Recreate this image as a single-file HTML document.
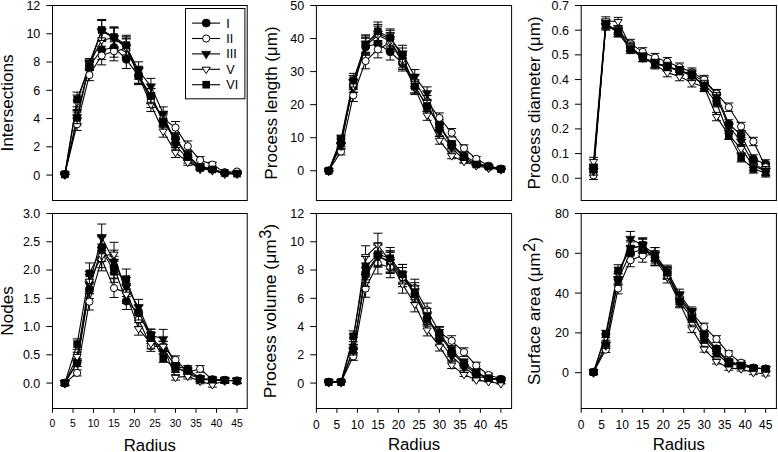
<!DOCTYPE html><html><head><meta charset="utf-8"><style>html,body{margin:0;padding:0;background:#fff;}svg{display:block;}text{font-family:"Liberation Sans", sans-serif;fill:#000;}</style></head><body>
<svg width="778" height="452" viewBox="0 0 778 452">
<rect width="778" height="452" fill="#fff"/>
<g><polyline points="64.80,174.36 77.10,118.54 89.40,65.55 101.70,50.01 114.00,47.47 126.30,59.34 138.60,76.15 150.90,95.93 163.20,119.96 175.50,138.33 187.80,155.28 200.10,166.59 212.40,168.71 224.70,172.95 237.00,172.95" fill="none" stroke="#000" stroke-width="1.1" stroke-linejoin="round"/><polyline points="64.80,174.36 77.10,124.20 89.40,75.02 101.70,55.52 114.00,51.28 126.30,48.60 138.60,74.74 150.90,100.17 163.20,118.54 175.50,127.59 187.80,146.24 200.10,160.09 212.40,164.61 224.70,172.24 237.00,171.53" fill="none" stroke="#000" stroke-width="1.1" stroke-linejoin="round"/><polyline points="64.80,174.36 77.10,117.13 89.40,62.73 101.70,30.93 114.00,38.00 126.30,46.48 138.60,70.50 150.90,86.33 163.20,113.60 175.50,144.68 187.80,159.52 200.10,168.71 212.40,170.12 224.70,173.65 237.00,173.65" fill="none" stroke="#000" stroke-width="1.1" stroke-linejoin="round"/><polyline points="64.80,174.36 77.10,102.29 89.40,64.14 101.70,39.98 114.00,38.00 126.30,47.89 138.60,76.15 150.90,104.41 163.20,131.26 175.50,152.46 187.80,162.35 200.10,168.00 212.40,170.12 224.70,173.65 237.00,173.65" fill="none" stroke="#000" stroke-width="1.1" stroke-linejoin="round"/><polyline points="64.80,174.36 77.10,99.47 89.40,66.26 101.70,29.95 114.00,37.01 126.30,45.07 138.60,75.30 150.90,96.22 163.20,121.37 175.50,139.74 187.80,156.27 200.10,168.00 212.40,169.41 224.70,172.95 237.00,173.65" fill="none" stroke="#000" stroke-width="1.1" stroke-linejoin="round"/><path d="M64.80 174.20V174.52M60.30 174.20H69.30M60.30 174.52H69.30" stroke="#000" stroke-width="1" fill="none"/><path d="M77.10 112.04V125.04M72.60 112.04H81.60M72.60 125.04H81.60" stroke="#000" stroke-width="1" fill="none"/><path d="M89.40 61.32V69.79M84.90 61.32H93.90M84.90 69.79H93.90" stroke="#000" stroke-width="1" fill="none"/><path d="M101.70 40.43V59.59M97.20 40.43H106.20M97.20 59.59H106.20" stroke="#000" stroke-width="1" fill="none"/><path d="M114.00 37.77V57.17M109.50 37.77H118.50M109.50 57.17H118.50" stroke="#000" stroke-width="1" fill="none"/><path d="M126.30 50.17V68.50M121.80 50.17H130.80M121.80 68.50H130.80" stroke="#000" stroke-width="1" fill="none"/><path d="M138.60 67.74V84.56M134.10 67.74H143.10M134.10 84.56H143.10" stroke="#000" stroke-width="1" fill="none"/><path d="M150.90 88.42V103.45M146.40 88.42H155.40M146.40 103.45H155.40" stroke="#000" stroke-width="1" fill="none"/><path d="M163.20 113.52V126.39M158.70 113.52H167.70M158.70 126.39H167.70" stroke="#000" stroke-width="1" fill="none"/><path d="M175.50 132.72V143.94M171.00 132.72H180.00M171.00 143.94H180.00" stroke="#000" stroke-width="1" fill="none"/><path d="M187.80 150.70V159.87M183.30 150.70H192.30M183.30 159.87H192.30" stroke="#000" stroke-width="1" fill="none"/><path d="M200.10 164.62V168.55M195.60 164.62H204.60M195.60 168.55H204.60" stroke="#000" stroke-width="1" fill="none"/><path d="M212.40 167.23V170.18M207.90 167.23H216.90M207.90 170.18H216.90" stroke="#000" stroke-width="1" fill="none"/><path d="M224.70 172.45V173.44M220.20 172.45H229.20M220.20 173.44H229.20" stroke="#000" stroke-width="1" fill="none"/><path d="M237.00 172.45V173.44M232.50 172.45H241.50M232.50 173.44H241.50" stroke="#000" stroke-width="1" fill="none"/><circle cx="64.80" cy="174.36" r="4.0" fill="#000" stroke="#000" stroke-width="0.8"/><circle cx="77.10" cy="118.54" r="4.0" fill="#000" stroke="#000" stroke-width="0.8"/><circle cx="89.40" cy="65.55" r="4.0" fill="#000" stroke="#000" stroke-width="0.8"/><circle cx="101.70" cy="50.01" r="4.0" fill="#000" stroke="#000" stroke-width="0.8"/><circle cx="114.00" cy="47.47" r="4.0" fill="#000" stroke="#000" stroke-width="0.8"/><circle cx="126.30" cy="59.34" r="4.0" fill="#000" stroke="#000" stroke-width="0.8"/><circle cx="138.60" cy="76.15" r="4.0" fill="#000" stroke="#000" stroke-width="0.8"/><circle cx="150.90" cy="95.93" r="4.0" fill="#000" stroke="#000" stroke-width="0.8"/><circle cx="163.20" cy="119.96" r="4.0" fill="#000" stroke="#000" stroke-width="0.8"/><circle cx="175.50" cy="138.33" r="4.0" fill="#000" stroke="#000" stroke-width="0.8"/><circle cx="187.80" cy="155.28" r="4.0" fill="#000" stroke="#000" stroke-width="0.8"/><circle cx="200.10" cy="166.59" r="4.0" fill="#000" stroke="#000" stroke-width="0.8"/><circle cx="212.40" cy="168.71" r="4.0" fill="#000" stroke="#000" stroke-width="0.8"/><circle cx="224.70" cy="172.95" r="4.0" fill="#000" stroke="#000" stroke-width="0.8"/><circle cx="237.00" cy="172.95" r="4.0" fill="#000" stroke="#000" stroke-width="0.8"/><path d="M64.80 174.20V174.52M60.30 174.20H69.30M60.30 174.52H69.30" stroke="#000" stroke-width="1" fill="none"/><path d="M77.10 117.95V130.44M72.60 117.95H81.60M72.60 130.44H81.60" stroke="#000" stroke-width="1" fill="none"/><path d="M89.40 69.37V80.67M84.90 69.37H93.90M84.90 80.67H93.90" stroke="#000" stroke-width="1" fill="none"/><path d="M101.70 46.19V64.86M97.20 46.19H106.20M97.20 64.86H106.20" stroke="#000" stroke-width="1" fill="none"/><path d="M114.00 41.76V60.81M109.50 41.76H118.50M109.50 60.81H118.50" stroke="#000" stroke-width="1" fill="none"/><path d="M126.30 38.95V58.25M121.80 38.95H130.80M121.80 58.25H130.80" stroke="#000" stroke-width="1" fill="none"/><path d="M138.60 66.27V83.21M134.10 66.27H143.10M134.10 83.21H143.10" stroke="#000" stroke-width="1" fill="none"/><path d="M150.90 92.85V107.50M146.40 92.85H155.40M146.40 107.50H155.40" stroke="#000" stroke-width="1" fill="none"/><path d="M163.20 112.04V125.04M158.70 112.04H167.70M158.70 125.04H167.70" stroke="#000" stroke-width="1" fill="none"/><path d="M175.50 121.49V133.68M171.00 121.49H180.00M171.00 133.68H180.00" stroke="#000" stroke-width="1" fill="none"/><path d="M187.80 140.99V151.49M183.30 140.99H192.30M183.30 151.49H192.30" stroke="#000" stroke-width="1" fill="none"/><path d="M200.10 156.62V163.56M195.60 156.62H204.60M195.60 163.56H204.60" stroke="#000" stroke-width="1" fill="none"/><path d="M212.40 162.19V167.03M207.90 162.19H216.90M207.90 167.03H216.90" stroke="#000" stroke-width="1" fill="none"/><path d="M224.70 171.58V172.89M220.20 171.58H229.20M220.20 172.89H229.20" stroke="#000" stroke-width="1" fill="none"/><path d="M237.00 170.71V172.35M232.50 170.71H241.50M232.50 172.35H241.50" stroke="#000" stroke-width="1" fill="none"/><circle cx="64.80" cy="174.36" r="3.6" fill="#fff" stroke="#000" stroke-width="1"/><circle cx="77.10" cy="124.20" r="3.6" fill="#fff" stroke="#000" stroke-width="1"/><circle cx="89.40" cy="75.02" r="3.6" fill="#fff" stroke="#000" stroke-width="1"/><circle cx="101.70" cy="55.52" r="3.6" fill="#fff" stroke="#000" stroke-width="1"/><circle cx="114.00" cy="51.28" r="3.6" fill="#fff" stroke="#000" stroke-width="1"/><circle cx="126.30" cy="48.60" r="3.6" fill="#fff" stroke="#000" stroke-width="1"/><circle cx="138.60" cy="74.74" r="3.6" fill="#fff" stroke="#000" stroke-width="1"/><circle cx="150.90" cy="100.17" r="3.6" fill="#fff" stroke="#000" stroke-width="1"/><circle cx="163.20" cy="118.54" r="3.6" fill="#fff" stroke="#000" stroke-width="1"/><circle cx="175.50" cy="127.59" r="3.6" fill="#fff" stroke="#000" stroke-width="1"/><circle cx="187.80" cy="146.24" r="3.6" fill="#fff" stroke="#000" stroke-width="1"/><circle cx="200.10" cy="160.09" r="3.6" fill="#fff" stroke="#000" stroke-width="1"/><circle cx="212.40" cy="164.61" r="3.6" fill="#fff" stroke="#000" stroke-width="1"/><circle cx="224.70" cy="172.24" r="3.6" fill="#fff" stroke="#000" stroke-width="1"/><circle cx="237.00" cy="171.53" r="3.6" fill="#fff" stroke="#000" stroke-width="1"/><path d="M64.80 174.20V174.52M60.30 174.20H69.30M60.30 174.52H69.30" stroke="#000" stroke-width="1" fill="none"/><path d="M77.10 110.57V123.69M72.60 110.57H81.60M72.60 123.69H81.60" stroke="#000" stroke-width="1" fill="none"/><path d="M89.40 58.49V66.97M84.90 58.49H93.90M84.90 66.97H93.90" stroke="#000" stroke-width="1" fill="none"/><path d="M101.70 20.49V41.38M97.20 20.49H106.20M97.20 41.38H106.20" stroke="#000" stroke-width="1" fill="none"/><path d="M114.00 27.88V48.12M109.50 27.88H118.50M109.50 48.12H118.50" stroke="#000" stroke-width="1" fill="none"/><path d="M126.30 36.74V56.22M121.80 36.74H130.80M121.80 56.22H130.80" stroke="#000" stroke-width="1" fill="none"/><path d="M138.60 61.84V79.16M134.10 61.84H143.10M134.10 79.16H143.10" stroke="#000" stroke-width="1" fill="none"/><path d="M150.90 78.38V94.28M146.40 78.38H155.40M146.40 94.28H155.40" stroke="#000" stroke-width="1" fill="none"/><path d="M163.20 106.88V120.32M158.70 106.88H167.70M158.70 120.32H167.70" stroke="#000" stroke-width="1" fill="none"/><path d="M175.50 139.36V150.01M171.00 139.36H180.00M171.00 150.01H180.00" stroke="#000" stroke-width="1" fill="none"/><path d="M187.80 155.92V163.12M183.30 155.92H192.30M183.30 163.12H192.30" stroke="#000" stroke-width="1" fill="none"/><path d="M200.10 167.23V170.18M195.60 167.23H204.60M195.60 170.18H204.60" stroke="#000" stroke-width="1" fill="none"/><path d="M212.40 168.97V171.27M207.90 168.97H216.90M207.90 171.27H216.90" stroke="#000" stroke-width="1" fill="none"/><path d="M224.70 173.32V173.98M220.20 173.32H229.20M220.20 173.98H229.20" stroke="#000" stroke-width="1" fill="none"/><path d="M237.00 173.32V173.98M232.50 173.32H241.50M232.50 173.98H241.50" stroke="#000" stroke-width="1" fill="none"/><polygon points="60.10,171.76 69.50,171.76 64.80,179.56" fill="#000" stroke="#000" stroke-width="0.5" stroke-linejoin="miter"/><polygon points="72.40,114.53 81.80,114.53 77.10,122.33" fill="#000" stroke="#000" stroke-width="0.5" stroke-linejoin="miter"/><polygon points="84.70,60.13 94.10,60.13 89.40,67.93" fill="#000" stroke="#000" stroke-width="0.5" stroke-linejoin="miter"/><polygon points="97.00,28.33 106.40,28.33 101.70,36.13" fill="#000" stroke="#000" stroke-width="0.5" stroke-linejoin="miter"/><polygon points="109.30,35.40 118.70,35.40 114.00,43.20" fill="#000" stroke="#000" stroke-width="0.5" stroke-linejoin="miter"/><polygon points="121.60,43.88 131.00,43.88 126.30,51.68" fill="#000" stroke="#000" stroke-width="0.5" stroke-linejoin="miter"/><polygon points="133.90,67.90 143.30,67.90 138.60,75.70" fill="#000" stroke="#000" stroke-width="0.5" stroke-linejoin="miter"/><polygon points="146.20,83.73 155.60,83.73 150.90,91.53" fill="#000" stroke="#000" stroke-width="0.5" stroke-linejoin="miter"/><polygon points="158.50,111.00 167.90,111.00 163.20,118.80" fill="#000" stroke="#000" stroke-width="0.5" stroke-linejoin="miter"/><polygon points="170.80,142.08 180.20,142.08 175.50,149.88" fill="#000" stroke="#000" stroke-width="0.5" stroke-linejoin="miter"/><polygon points="183.10,156.92 192.50,156.92 187.80,164.72" fill="#000" stroke="#000" stroke-width="0.5" stroke-linejoin="miter"/><polygon points="195.40,166.11 204.80,166.11 200.10,173.91" fill="#000" stroke="#000" stroke-width="0.5" stroke-linejoin="miter"/><polygon points="207.70,167.52 217.10,167.52 212.40,175.32" fill="#000" stroke="#000" stroke-width="0.5" stroke-linejoin="miter"/><polygon points="220.00,171.05 229.40,171.05 224.70,178.85" fill="#000" stroke="#000" stroke-width="0.5" stroke-linejoin="miter"/><polygon points="232.30,171.05 241.70,171.05 237.00,178.85" fill="#000" stroke="#000" stroke-width="0.5" stroke-linejoin="miter"/><path d="M64.80 174.20V174.52M60.30 174.20H69.30M60.30 174.52H69.30" stroke="#000" stroke-width="1" fill="none"/><path d="M77.10 95.06V109.52M72.60 95.06H81.60M72.60 109.52H81.60" stroke="#000" stroke-width="1" fill="none"/><path d="M89.40 59.90V68.38M84.90 59.90H93.90M84.90 68.38H93.90" stroke="#000" stroke-width="1" fill="none"/><path d="M101.70 29.94V50.01M97.20 29.94H106.20M97.20 50.01H106.20" stroke="#000" stroke-width="1" fill="none"/><path d="M114.00 27.88V48.12M109.50 27.88H118.50M109.50 48.12H118.50" stroke="#000" stroke-width="1" fill="none"/><path d="M126.30 38.21V57.57M121.80 38.21H130.80M121.80 57.57H130.80" stroke="#000" stroke-width="1" fill="none"/><path d="M138.60 67.74V84.56M134.10 67.74H143.10M134.10 84.56H143.10" stroke="#000" stroke-width="1" fill="none"/><path d="M150.90 97.28V111.55M146.40 97.28H155.40M146.40 111.55H155.40" stroke="#000" stroke-width="1" fill="none"/><path d="M163.20 125.33V137.19M158.70 125.33H167.70M158.70 137.19H167.70" stroke="#000" stroke-width="1" fill="none"/><path d="M175.50 147.48V157.43M171.00 147.48H180.00M171.00 157.43H180.00" stroke="#000" stroke-width="1" fill="none"/><path d="M187.80 159.40V165.29M183.30 159.40H192.30M183.30 165.29H192.30" stroke="#000" stroke-width="1" fill="none"/><path d="M200.10 166.36V169.64M195.60 166.36H204.60M195.60 169.64H204.60" stroke="#000" stroke-width="1" fill="none"/><path d="M212.40 168.97V171.27M207.90 168.97H216.90M207.90 171.27H216.90" stroke="#000" stroke-width="1" fill="none"/><path d="M224.70 173.32V173.98M220.20 173.32H229.20M220.20 173.98H229.20" stroke="#000" stroke-width="1" fill="none"/><path d="M237.00 173.32V173.98M232.50 173.32H241.50M232.50 173.98H241.50" stroke="#000" stroke-width="1" fill="none"/><polygon points="60.70,172.26 68.90,172.26 64.80,178.66" fill="#fff" stroke="#000" stroke-width="1"/><polygon points="73.00,100.19 81.20,100.19 77.10,106.59" fill="#fff" stroke="#000" stroke-width="1"/><polygon points="85.30,62.04 93.50,62.04 89.40,68.44" fill="#fff" stroke="#000" stroke-width="1"/><polygon points="97.60,37.88 105.80,37.88 101.70,44.28" fill="#fff" stroke="#000" stroke-width="1"/><polygon points="109.90,35.90 118.10,35.90 114.00,42.30" fill="#fff" stroke="#000" stroke-width="1"/><polygon points="122.20,45.79 130.40,45.79 126.30,52.19" fill="#fff" stroke="#000" stroke-width="1"/><polygon points="134.50,74.05 142.70,74.05 138.60,80.45" fill="#fff" stroke="#000" stroke-width="1"/><polygon points="146.80,102.31 155.00,102.31 150.90,108.71" fill="#fff" stroke="#000" stroke-width="1"/><polygon points="159.10,129.16 167.30,129.16 163.20,135.56" fill="#fff" stroke="#000" stroke-width="1"/><polygon points="171.40,150.36 179.60,150.36 175.50,156.76" fill="#fff" stroke="#000" stroke-width="1"/><polygon points="183.70,160.25 191.90,160.25 187.80,166.65" fill="#fff" stroke="#000" stroke-width="1"/><polygon points="196.00,165.90 204.20,165.90 200.10,172.30" fill="#fff" stroke="#000" stroke-width="1"/><polygon points="208.30,168.02 216.50,168.02 212.40,174.42" fill="#fff" stroke="#000" stroke-width="1"/><polygon points="220.60,171.55 228.80,171.55 224.70,177.95" fill="#fff" stroke="#000" stroke-width="1"/><polygon points="232.90,171.55 241.10,171.55 237.00,177.95" fill="#fff" stroke="#000" stroke-width="1"/><path d="M64.80 174.20V174.52M60.30 174.20H69.30M60.30 174.52H69.30" stroke="#000" stroke-width="1" fill="none"/><path d="M77.10 92.11V106.83M72.60 92.11H81.60M72.60 106.83H81.60" stroke="#000" stroke-width="1" fill="none"/><path d="M89.40 62.02V70.50M84.90 62.02H93.90M84.90 70.50H93.90" stroke="#000" stroke-width="1" fill="none"/><path d="M101.70 19.46V40.43M97.20 19.46H106.20M97.20 40.43H106.20" stroke="#000" stroke-width="1" fill="none"/><path d="M114.00 26.84V47.18M109.50 26.84H118.50M109.50 47.18H118.50" stroke="#000" stroke-width="1" fill="none"/><path d="M126.30 35.26V54.87M121.80 35.26H130.80M121.80 54.87H130.80" stroke="#000" stroke-width="1" fill="none"/><path d="M138.60 66.86V83.75M134.10 66.86H143.10M134.10 83.75H143.10" stroke="#000" stroke-width="1" fill="none"/><path d="M150.90 88.71V103.72M146.40 88.71H155.40M146.40 103.72H155.40" stroke="#000" stroke-width="1" fill="none"/><path d="M163.20 115.00V127.74M158.70 115.00H167.70M158.70 127.74H167.70" stroke="#000" stroke-width="1" fill="none"/><path d="M175.50 134.19V145.29M171.00 134.19H180.00M171.00 145.29H180.00" stroke="#000" stroke-width="1" fill="none"/><path d="M187.80 151.92V160.63M183.30 151.92H192.30M183.30 160.63H192.30" stroke="#000" stroke-width="1" fill="none"/><path d="M200.10 166.36V169.64M195.60 166.36H204.60M195.60 169.64H204.60" stroke="#000" stroke-width="1" fill="none"/><path d="M212.40 168.10V170.72M207.90 168.10H216.90M207.90 170.72H216.90" stroke="#000" stroke-width="1" fill="none"/><path d="M224.70 172.45V173.44M220.20 172.45H229.20M220.20 173.44H229.20" stroke="#000" stroke-width="1" fill="none"/><path d="M237.00 173.32V173.98M232.50 173.32H241.50M232.50 173.98H241.50" stroke="#000" stroke-width="1" fill="none"/><rect x="61.00" y="170.56" width="7.6" height="7.6" fill="#000"/><rect x="73.30" y="95.67" width="7.6" height="7.6" fill="#000"/><rect x="85.60" y="62.46" width="7.6" height="7.6" fill="#000"/><rect x="97.90" y="26.15" width="7.6" height="7.6" fill="#000"/><rect x="110.20" y="33.21" width="7.6" height="7.6" fill="#000"/><rect x="122.50" y="41.27" width="7.6" height="7.6" fill="#000"/><rect x="134.80" y="71.50" width="7.6" height="7.6" fill="#000"/><rect x="147.10" y="92.42" width="7.6" height="7.6" fill="#000"/><rect x="159.40" y="117.57" width="7.6" height="7.6" fill="#000"/><rect x="171.70" y="135.94" width="7.6" height="7.6" fill="#000"/><rect x="184.00" y="152.47" width="7.6" height="7.6" fill="#000"/><rect x="196.30" y="164.20" width="7.6" height="7.6" fill="#000"/><rect x="208.60" y="165.61" width="7.6" height="7.6" fill="#000"/><rect x="220.90" y="169.15" width="7.6" height="7.6" fill="#000"/><rect x="233.20" y="169.85" width="7.6" height="7.6" fill="#000"/></g>
<rect x="52.50" y="5.50" width="194.70" height="195.00" fill="none" stroke="#000" stroke-width="1.0"/>
<line x1="46.30" y1="175.07" x2="52.50" y2="175.07" stroke="#000" stroke-width="1.0"/>
<text x="40.30" y="179.52" font-size="12.5" text-anchor="end">0</text>
<line x1="46.30" y1="146.80" x2="52.50" y2="146.80" stroke="#000" stroke-width="1.0"/>
<text x="40.30" y="151.25" font-size="12.5" text-anchor="end">2</text>
<line x1="46.30" y1="118.54" x2="52.50" y2="118.54" stroke="#000" stroke-width="1.0"/>
<text x="40.30" y="122.99" font-size="12.5" text-anchor="end">4</text>
<line x1="46.30" y1="90.28" x2="52.50" y2="90.28" stroke="#000" stroke-width="1.0"/>
<text x="40.30" y="94.73" font-size="12.5" text-anchor="end">6</text>
<line x1="46.30" y1="62.02" x2="52.50" y2="62.02" stroke="#000" stroke-width="1.0"/>
<text x="40.30" y="66.47" font-size="12.5" text-anchor="end">8</text>
<line x1="46.30" y1="33.76" x2="52.50" y2="33.76" stroke="#000" stroke-width="1.0"/>
<text x="40.30" y="38.21" font-size="12.5" text-anchor="end">10</text>
<line x1="46.30" y1="5.50" x2="52.50" y2="5.50" stroke="#000" stroke-width="1.0"/>
<text x="40.30" y="9.95" font-size="12.5" text-anchor="end">12</text>
<text transform="translate(12.80,103.00) rotate(-90)" x="0" y="0" font-size="17.1" text-anchor="middle">Intersections</text>
<g><polyline points="328.70,170.75 341.00,142.99 353.30,85.48 365.60,46.81 377.90,43.84 390.20,51.77 402.50,63.34 414.80,86.47 427.10,106.31 439.40,124.48 451.70,144.31 464.00,155.88 476.30,162.49 488.60,166.79 500.90,169.10" fill="none" stroke="#000" stroke-width="1.1" stroke-linejoin="round"/><polyline points="328.70,170.75 341.00,151.58 353.30,95.40 365.60,61.03 377.90,49.46 390.20,42.52 402.50,61.69 414.80,81.52 427.10,101.35 439.40,117.87 451.70,132.75 464.00,148.28 476.30,158.86 488.60,165.80 500.90,168.77" fill="none" stroke="#000" stroke-width="1.1" stroke-linejoin="round"/><polyline points="328.70,170.75 341.00,145.64 353.30,82.18 365.60,43.51 377.90,33.59 390.20,39.21 402.50,53.42 414.80,76.56 427.10,93.08 439.40,131.75 451.70,147.62 464.00,160.18 476.30,164.14 488.60,167.45 500.90,169.10" fill="none" stroke="#000" stroke-width="1.1" stroke-linejoin="round"/><polyline points="328.70,170.75 341.00,140.02 353.30,86.14 365.60,45.82 377.90,35.25 390.20,41.19 402.50,60.03 414.80,88.13 427.10,115.23 439.40,140.35 451.70,155.88 464.00,161.50 476.30,165.80 488.60,168.11 500.90,169.43" fill="none" stroke="#000" stroke-width="1.1" stroke-linejoin="round"/><polyline points="328.70,170.75 341.00,139.03 353.30,80.19 365.60,44.50 377.90,31.28 390.20,37.89 402.50,56.07 414.80,86.47 427.10,105.97 439.40,126.47 451.70,145.31 464.00,157.20 476.30,164.47 488.60,166.46 500.90,169.10" fill="none" stroke="#000" stroke-width="1.1" stroke-linejoin="round"/><path d="M328.70 170.75V170.75M324.20 170.75H333.20M324.20 170.75H333.20" stroke="#000" stroke-width="1" fill="none"/><path d="M341.00 139.29V146.69M336.50 139.29H345.50M336.50 146.69H345.50" stroke="#000" stroke-width="1" fill="none"/><path d="M353.30 78.91V92.06M348.80 78.91H357.80M348.80 92.06H357.80" stroke="#000" stroke-width="1" fill="none"/><path d="M365.60 38.30V55.32M361.10 38.30H370.10M361.10 55.32H370.10" stroke="#000" stroke-width="1" fill="none"/><path d="M377.90 35.18V52.50M373.40 35.18H382.40M373.40 52.50H382.40" stroke="#000" stroke-width="1" fill="none"/><path d="M390.20 43.51V60.03M385.70 43.51H394.70M385.70 60.03H394.70" stroke="#000" stroke-width="1" fill="none"/><path d="M402.50 55.65V71.02M398.00 55.65H407.00M398.00 71.02H407.00" stroke="#000" stroke-width="1" fill="none"/><path d="M414.80 79.95V93.00M410.30 79.95H419.30M410.30 93.00H419.30" stroke="#000" stroke-width="1" fill="none"/><path d="M427.10 100.77V111.84M422.60 100.77H431.60M422.60 111.84H431.60" stroke="#000" stroke-width="1" fill="none"/><path d="M439.40 119.86V129.11M434.90 119.86H443.90M434.90 129.11H443.90" stroke="#000" stroke-width="1" fill="none"/><path d="M451.70 140.68V147.95M447.20 140.68H456.20M447.20 147.95H456.20" stroke="#000" stroke-width="1" fill="none"/><path d="M464.00 153.06V158.71M459.50 153.06H468.50M459.50 158.71H468.50" stroke="#000" stroke-width="1" fill="none"/><path d="M476.30 160.92V164.06M471.80 160.92H480.80M471.80 164.06H480.80" stroke="#000" stroke-width="1" fill="none"/><path d="M488.60 166.03V167.54M484.10 166.03H493.10M484.10 167.54H493.10" stroke="#000" stroke-width="1" fill="none"/><path d="M500.90 168.79V169.42M496.40 168.79H505.40M496.40 169.42H505.40" stroke="#000" stroke-width="1" fill="none"/><circle cx="328.70" cy="170.75" r="4.0" fill="#000" stroke="#000" stroke-width="0.8"/><circle cx="341.00" cy="142.99" r="4.0" fill="#000" stroke="#000" stroke-width="0.8"/><circle cx="353.30" cy="85.48" r="4.0" fill="#000" stroke="#000" stroke-width="0.8"/><circle cx="365.60" cy="46.81" r="4.0" fill="#000" stroke="#000" stroke-width="0.8"/><circle cx="377.90" cy="43.84" r="4.0" fill="#000" stroke="#000" stroke-width="0.8"/><circle cx="390.20" cy="51.77" r="4.0" fill="#000" stroke="#000" stroke-width="0.8"/><circle cx="402.50" cy="63.34" r="4.0" fill="#000" stroke="#000" stroke-width="0.8"/><circle cx="414.80" cy="86.47" r="4.0" fill="#000" stroke="#000" stroke-width="0.8"/><circle cx="427.10" cy="106.31" r="4.0" fill="#000" stroke="#000" stroke-width="0.8"/><circle cx="439.40" cy="124.48" r="4.0" fill="#000" stroke="#000" stroke-width="0.8"/><circle cx="451.70" cy="144.31" r="4.0" fill="#000" stroke="#000" stroke-width="0.8"/><circle cx="464.00" cy="155.88" r="4.0" fill="#000" stroke="#000" stroke-width="0.8"/><circle cx="476.30" cy="162.49" r="4.0" fill="#000" stroke="#000" stroke-width="0.8"/><circle cx="488.60" cy="166.79" r="4.0" fill="#000" stroke="#000" stroke-width="0.8"/><circle cx="500.90" cy="169.10" r="4.0" fill="#000" stroke="#000" stroke-width="0.8"/><path d="M328.70 170.75V170.75M324.20 170.75H333.20M324.20 170.75H333.20" stroke="#000" stroke-width="1" fill="none"/><path d="M341.00 148.31V154.86M336.50 148.31H345.50M336.50 154.86H345.50" stroke="#000" stroke-width="1" fill="none"/><path d="M353.30 89.32V101.48M348.80 89.32H357.80M348.80 101.48H357.80" stroke="#000" stroke-width="1" fill="none"/><path d="M365.60 53.23V68.83M361.10 53.23H370.10M361.10 68.83H370.10" stroke="#000" stroke-width="1" fill="none"/><path d="M377.90 41.08V57.84M373.40 41.08H382.40M373.40 57.84H382.40" stroke="#000" stroke-width="1" fill="none"/><path d="M390.20 33.79V51.24M385.70 33.79H394.70M385.70 51.24H394.70" stroke="#000" stroke-width="1" fill="none"/><path d="M402.50 53.92V69.45M398.00 53.92H407.00M398.00 69.45H407.00" stroke="#000" stroke-width="1" fill="none"/><path d="M414.80 74.74V88.29M410.30 74.74H419.30M410.30 88.29H419.30" stroke="#000" stroke-width="1" fill="none"/><path d="M427.10 95.56V107.13M422.60 95.56H431.60M422.60 107.13H431.60" stroke="#000" stroke-width="1" fill="none"/><path d="M439.40 112.92V122.83M434.90 112.92H443.90M434.90 122.83H443.90" stroke="#000" stroke-width="1" fill="none"/><path d="M451.70 128.53V136.96M447.20 128.53H456.20M447.20 136.96H456.20" stroke="#000" stroke-width="1" fill="none"/><path d="M464.00 144.84V151.72M459.50 144.84H468.50M459.50 151.72H468.50" stroke="#000" stroke-width="1" fill="none"/><path d="M476.30 156.60V161.12M471.80 156.60H480.80M471.80 161.12H480.80" stroke="#000" stroke-width="1" fill="none"/><path d="M488.60 164.85V166.74M484.10 164.85H493.10M484.10 166.74H493.10" stroke="#000" stroke-width="1" fill="none"/><path d="M500.90 168.39V169.15M496.40 168.39H505.40M496.40 169.15H505.40" stroke="#000" stroke-width="1" fill="none"/><circle cx="328.70" cy="170.75" r="3.6" fill="#fff" stroke="#000" stroke-width="1"/><circle cx="341.00" cy="151.58" r="3.6" fill="#fff" stroke="#000" stroke-width="1"/><circle cx="353.30" cy="95.40" r="3.6" fill="#fff" stroke="#000" stroke-width="1"/><circle cx="365.60" cy="61.03" r="3.6" fill="#fff" stroke="#000" stroke-width="1"/><circle cx="377.90" cy="49.46" r="3.6" fill="#fff" stroke="#000" stroke-width="1"/><circle cx="390.20" cy="42.52" r="3.6" fill="#fff" stroke="#000" stroke-width="1"/><circle cx="402.50" cy="61.69" r="3.6" fill="#fff" stroke="#000" stroke-width="1"/><circle cx="414.80" cy="81.52" r="3.6" fill="#fff" stroke="#000" stroke-width="1"/><circle cx="427.10" cy="101.35" r="3.6" fill="#fff" stroke="#000" stroke-width="1"/><circle cx="439.40" cy="117.87" r="3.6" fill="#fff" stroke="#000" stroke-width="1"/><circle cx="451.70" cy="132.75" r="3.6" fill="#fff" stroke="#000" stroke-width="1"/><circle cx="464.00" cy="148.28" r="3.6" fill="#fff" stroke="#000" stroke-width="1"/><circle cx="476.30" cy="158.86" r="3.6" fill="#fff" stroke="#000" stroke-width="1"/><circle cx="488.60" cy="165.80" r="3.6" fill="#fff" stroke="#000" stroke-width="1"/><circle cx="500.90" cy="168.77" r="3.6" fill="#fff" stroke="#000" stroke-width="1"/><path d="M328.70 170.75V170.75M324.20 170.75H333.20M324.20 170.75H333.20" stroke="#000" stroke-width="1" fill="none"/><path d="M341.00 142.07V149.21M336.50 142.07H345.50M336.50 149.21H345.50" stroke="#000" stroke-width="1" fill="none"/><path d="M353.30 75.44V88.92M348.80 75.44H357.80M348.80 88.92H357.80" stroke="#000" stroke-width="1" fill="none"/><path d="M365.60 34.83V52.18M361.10 34.83H370.10M361.10 52.18H370.10" stroke="#000" stroke-width="1" fill="none"/><path d="M377.90 24.42V42.76M373.40 24.42H382.40M373.40 42.76H382.40" stroke="#000" stroke-width="1" fill="none"/><path d="M390.20 30.32V48.10M385.70 30.32H394.70M385.70 48.10H394.70" stroke="#000" stroke-width="1" fill="none"/><path d="M402.50 45.24V61.60M398.00 45.24H407.00M398.00 61.60H407.00" stroke="#000" stroke-width="1" fill="none"/><path d="M414.80 69.54V83.58M410.30 69.54H419.30M410.30 83.58H419.30" stroke="#000" stroke-width="1" fill="none"/><path d="M427.10 86.89V99.28M422.60 86.89H431.60M422.60 99.28H431.60" stroke="#000" stroke-width="1" fill="none"/><path d="M439.40 127.49V136.02M434.90 127.49H443.90M434.90 136.02H443.90" stroke="#000" stroke-width="1" fill="none"/><path d="M451.70 144.15V151.09M447.20 144.15H456.20M447.20 151.09H456.20" stroke="#000" stroke-width="1" fill="none"/><path d="M464.00 158.17V162.19M459.50 158.17H468.50M459.50 162.19H468.50" stroke="#000" stroke-width="1" fill="none"/><path d="M476.30 162.89V165.40M471.80 162.89H480.80M471.80 165.40H480.80" stroke="#000" stroke-width="1" fill="none"/><path d="M488.60 166.82V168.08M484.10 166.82H493.10M484.10 168.08H493.10" stroke="#000" stroke-width="1" fill="none"/><path d="M500.90 168.79V169.42M496.40 168.79H505.40M496.40 169.42H505.40" stroke="#000" stroke-width="1" fill="none"/><polygon points="324.00,168.15 333.40,168.15 328.70,175.95" fill="#000" stroke="#000" stroke-width="0.5" stroke-linejoin="miter"/><polygon points="336.30,143.04 345.70,143.04 341.00,150.84" fill="#000" stroke="#000" stroke-width="0.5" stroke-linejoin="miter"/><polygon points="348.60,79.58 358.00,79.58 353.30,87.38" fill="#000" stroke="#000" stroke-width="0.5" stroke-linejoin="miter"/><polygon points="360.90,40.91 370.30,40.91 365.60,48.71" fill="#000" stroke="#000" stroke-width="0.5" stroke-linejoin="miter"/><polygon points="373.20,30.99 382.60,30.99 377.90,38.79" fill="#000" stroke="#000" stroke-width="0.5" stroke-linejoin="miter"/><polygon points="385.50,36.61 394.90,36.61 390.20,44.41" fill="#000" stroke="#000" stroke-width="0.5" stroke-linejoin="miter"/><polygon points="397.80,50.82 407.20,50.82 402.50,58.62" fill="#000" stroke="#000" stroke-width="0.5" stroke-linejoin="miter"/><polygon points="410.10,73.96 419.50,73.96 414.80,81.76" fill="#000" stroke="#000" stroke-width="0.5" stroke-linejoin="miter"/><polygon points="422.40,90.48 431.80,90.48 427.10,98.28" fill="#000" stroke="#000" stroke-width="0.5" stroke-linejoin="miter"/><polygon points="434.70,129.15 444.10,129.15 439.40,136.95" fill="#000" stroke="#000" stroke-width="0.5" stroke-linejoin="miter"/><polygon points="447.00,145.02 456.40,145.02 451.70,152.82" fill="#000" stroke="#000" stroke-width="0.5" stroke-linejoin="miter"/><polygon points="459.30,157.58 468.70,157.58 464.00,165.38" fill="#000" stroke="#000" stroke-width="0.5" stroke-linejoin="miter"/><polygon points="471.60,161.54 481.00,161.54 476.30,169.34" fill="#000" stroke="#000" stroke-width="0.5" stroke-linejoin="miter"/><polygon points="483.90,164.85 493.30,164.85 488.60,172.65" fill="#000" stroke="#000" stroke-width="0.5" stroke-linejoin="miter"/><polygon points="496.20,166.50 505.60,166.50 500.90,174.30" fill="#000" stroke="#000" stroke-width="0.5" stroke-linejoin="miter"/><path d="M328.70 170.75V170.75M324.20 170.75H333.20M324.20 170.75H333.20" stroke="#000" stroke-width="1" fill="none"/><path d="M341.00 136.17V143.87M336.50 136.17H345.50M336.50 143.87H345.50" stroke="#000" stroke-width="1" fill="none"/><path d="M353.30 79.60V92.69M348.80 79.60H357.80M348.80 92.69H357.80" stroke="#000" stroke-width="1" fill="none"/><path d="M365.60 37.26V54.38M361.10 37.26H370.10M361.10 54.38H370.10" stroke="#000" stroke-width="1" fill="none"/><path d="M377.90 26.16V44.33M373.40 26.16H382.40M373.40 44.33H382.40" stroke="#000" stroke-width="1" fill="none"/><path d="M390.20 32.40V49.99M385.70 32.40H394.70M385.70 49.99H394.70" stroke="#000" stroke-width="1" fill="none"/><path d="M402.50 52.18V67.88M398.00 52.18H407.00M398.00 67.88H407.00" stroke="#000" stroke-width="1" fill="none"/><path d="M414.80 81.68V94.57M410.30 81.68H419.30M410.30 94.57H419.30" stroke="#000" stroke-width="1" fill="none"/><path d="M427.10 110.14V120.32M422.60 110.14H431.60M422.60 120.32H431.60" stroke="#000" stroke-width="1" fill="none"/><path d="M439.40 136.51V144.18M434.90 136.51H443.90M434.90 144.18H443.90" stroke="#000" stroke-width="1" fill="none"/><path d="M451.70 153.06V158.71M447.20 153.06H456.20M447.20 158.71H456.20" stroke="#000" stroke-width="1" fill="none"/><path d="M464.00 159.74V163.26M459.50 159.74H468.50M459.50 163.26H468.50" stroke="#000" stroke-width="1" fill="none"/><path d="M476.30 164.85V166.74M471.80 164.85H480.80M471.80 166.74H480.80" stroke="#000" stroke-width="1" fill="none"/><path d="M488.60 167.61V168.61M484.10 167.61H493.10M484.10 168.61H493.10" stroke="#000" stroke-width="1" fill="none"/><path d="M500.90 169.18V169.68M496.40 169.18H505.40M496.40 169.68H505.40" stroke="#000" stroke-width="1" fill="none"/><polygon points="324.60,168.65 332.80,168.65 328.70,175.05" fill="#fff" stroke="#000" stroke-width="1"/><polygon points="336.90,137.92 345.10,137.92 341.00,144.32" fill="#fff" stroke="#000" stroke-width="1"/><polygon points="349.20,84.04 357.40,84.04 353.30,90.44" fill="#fff" stroke="#000" stroke-width="1"/><polygon points="361.50,43.72 369.70,43.72 365.60,50.12" fill="#fff" stroke="#000" stroke-width="1"/><polygon points="373.80,33.15 382.00,33.15 377.90,39.55" fill="#fff" stroke="#000" stroke-width="1"/><polygon points="386.10,39.09 394.30,39.09 390.20,45.49" fill="#fff" stroke="#000" stroke-width="1"/><polygon points="398.40,57.93 406.60,57.93 402.50,64.33" fill="#fff" stroke="#000" stroke-width="1"/><polygon points="410.70,86.03 418.90,86.03 414.80,92.43" fill="#fff" stroke="#000" stroke-width="1"/><polygon points="423.00,113.13 431.20,113.13 427.10,119.53" fill="#fff" stroke="#000" stroke-width="1"/><polygon points="435.30,138.25 443.50,138.25 439.40,144.65" fill="#fff" stroke="#000" stroke-width="1"/><polygon points="447.60,153.78 455.80,153.78 451.70,160.18" fill="#fff" stroke="#000" stroke-width="1"/><polygon points="459.90,159.40 468.10,159.40 464.00,165.80" fill="#fff" stroke="#000" stroke-width="1"/><polygon points="472.20,163.70 480.40,163.70 476.30,170.10" fill="#fff" stroke="#000" stroke-width="1"/><polygon points="484.50,166.01 492.70,166.01 488.60,172.41" fill="#fff" stroke="#000" stroke-width="1"/><polygon points="496.80,167.33 505.00,167.33 500.90,173.73" fill="#fff" stroke="#000" stroke-width="1"/><path d="M328.70 170.75V170.75M324.20 170.75H333.20M324.20 170.75H333.20" stroke="#000" stroke-width="1" fill="none"/><path d="M341.00 135.13V142.93M336.50 135.13H345.50M336.50 142.93H345.50" stroke="#000" stroke-width="1" fill="none"/><path d="M353.30 73.35V87.04M348.80 73.35H357.80M348.80 87.04H357.80" stroke="#000" stroke-width="1" fill="none"/><path d="M365.60 35.87V53.13M361.10 35.87H370.10M361.10 53.13H370.10" stroke="#000" stroke-width="1" fill="none"/><path d="M377.90 21.99V40.57M373.40 21.99H382.40M373.40 40.57H382.40" stroke="#000" stroke-width="1" fill="none"/><path d="M390.20 28.93V46.85M385.70 28.93H394.70M385.70 46.85H394.70" stroke="#000" stroke-width="1" fill="none"/><path d="M402.50 48.02V64.12M398.00 48.02H407.00M398.00 64.12H407.00" stroke="#000" stroke-width="1" fill="none"/><path d="M414.80 79.95V93.00M410.30 79.95H419.30M410.30 93.00H419.30" stroke="#000" stroke-width="1" fill="none"/><path d="M427.10 100.42V111.53M422.60 100.42H431.60M422.60 111.53H431.60" stroke="#000" stroke-width="1" fill="none"/><path d="M439.40 121.94V130.99M434.90 121.94H443.90M434.90 130.99H443.90" stroke="#000" stroke-width="1" fill="none"/><path d="M451.70 141.72V148.89M447.20 141.72H456.20M447.20 148.89H456.20" stroke="#000" stroke-width="1" fill="none"/><path d="M464.00 154.63V159.78M459.50 154.63H468.50M459.50 159.78H468.50" stroke="#000" stroke-width="1" fill="none"/><path d="M476.30 163.28V165.67M471.80 163.28H480.80M471.80 165.67H480.80" stroke="#000" stroke-width="1" fill="none"/><path d="M488.60 165.64V167.27M484.10 165.64H493.10M484.10 167.27H493.10" stroke="#000" stroke-width="1" fill="none"/><path d="M500.90 168.79V169.42M496.40 168.79H505.40M496.40 169.42H505.40" stroke="#000" stroke-width="1" fill="none"/><rect x="324.90" y="166.95" width="7.6" height="7.6" fill="#000"/><rect x="337.20" y="135.23" width="7.6" height="7.6" fill="#000"/><rect x="349.50" y="76.39" width="7.6" height="7.6" fill="#000"/><rect x="361.80" y="40.70" width="7.6" height="7.6" fill="#000"/><rect x="374.10" y="27.48" width="7.6" height="7.6" fill="#000"/><rect x="386.40" y="34.09" width="7.6" height="7.6" fill="#000"/><rect x="398.70" y="52.27" width="7.6" height="7.6" fill="#000"/><rect x="411.00" y="82.67" width="7.6" height="7.6" fill="#000"/><rect x="423.30" y="102.17" width="7.6" height="7.6" fill="#000"/><rect x="435.60" y="122.67" width="7.6" height="7.6" fill="#000"/><rect x="447.90" y="141.51" width="7.6" height="7.6" fill="#000"/><rect x="460.20" y="153.40" width="7.6" height="7.6" fill="#000"/><rect x="472.50" y="160.67" width="7.6" height="7.6" fill="#000"/><rect x="484.80" y="162.66" width="7.6" height="7.6" fill="#000"/><rect x="497.10" y="165.30" width="7.6" height="7.6" fill="#000"/></g>
<rect x="316.40" y="5.50" width="195.20" height="195.00" fill="none" stroke="#000" stroke-width="1.0"/>
<line x1="310.20" y1="170.75" x2="316.40" y2="170.75" stroke="#000" stroke-width="1.0"/>
<text x="304.20" y="175.20" font-size="12.5" text-anchor="end">0</text>
<line x1="310.20" y1="137.70" x2="316.40" y2="137.70" stroke="#000" stroke-width="1.0"/>
<text x="304.20" y="142.15" font-size="12.5" text-anchor="end">10</text>
<line x1="310.20" y1="104.65" x2="316.40" y2="104.65" stroke="#000" stroke-width="1.0"/>
<text x="304.20" y="109.10" font-size="12.5" text-anchor="end">20</text>
<line x1="310.20" y1="71.60" x2="316.40" y2="71.60" stroke="#000" stroke-width="1.0"/>
<text x="304.20" y="76.05" font-size="12.5" text-anchor="end">30</text>
<line x1="310.20" y1="38.55" x2="316.40" y2="38.55" stroke="#000" stroke-width="1.0"/>
<text x="304.20" y="43.00" font-size="12.5" text-anchor="end">40</text>
<line x1="310.20" y1="5.50" x2="316.40" y2="5.50" stroke="#000" stroke-width="1.0"/>
<text x="304.20" y="9.95" font-size="12.5" text-anchor="end">50</text>
<text transform="translate(276.70,103.00) rotate(-90)" x="0" y="0" font-size="17.1" text-anchor="middle">Process length (μm)</text>
<g><polyline points="593.50,168.41 605.80,23.52 618.10,32.65 630.40,47.46 642.70,57.34 655.00,63.01 667.30,65.97 679.60,70.66 691.90,74.61 704.20,81.28 716.50,93.87 728.80,123.98 741.10,135.09 753.40,159.03 765.70,163.97" fill="none" stroke="#000" stroke-width="1.1" stroke-linejoin="round"/><polyline points="593.50,175.32 605.80,24.75 618.10,30.18 630.40,43.51 642.70,51.91 655.00,57.58 667.30,61.78 679.60,67.21 691.90,72.15 704.20,79.55 716.50,93.62 728.80,107.20 741.10,126.45 753.40,141.51 765.70,167.18" fill="none" stroke="#000" stroke-width="1.1" stroke-linejoin="round"/><polyline points="593.50,170.88 605.80,25.99 618.10,30.18 630.40,47.46 642.70,57.34 655.00,63.51 667.30,67.21 679.60,70.91 691.90,75.85 704.20,84.49 716.50,96.83 728.80,126.45 741.10,141.51 753.40,163.47 765.70,170.88" fill="none" stroke="#000" stroke-width="1.1" stroke-linejoin="round"/><polyline points="593.50,161.50 605.80,21.05 618.10,21.54 630.40,46.23 642.70,57.34 655.00,64.74 667.30,72.64 679.60,76.59 691.90,82.76 704.20,86.96 716.50,116.58 728.80,135.09 741.10,148.66 753.40,165.94 765.70,170.88" fill="none" stroke="#000" stroke-width="1.1" stroke-linejoin="round"/><polyline points="593.50,168.41 605.80,24.75 618.10,32.65 630.40,49.44 642.70,57.58 655.00,63.75 667.30,66.47 679.60,70.66 691.90,74.12 704.20,87.45 716.50,102.75 728.80,135.09 741.10,157.80 753.40,168.91 765.70,172.85" fill="none" stroke="#000" stroke-width="1.1" stroke-linejoin="round"/><path d="M593.50 164.22V172.61M589.00 164.22H598.00M589.00 172.61H598.00" stroke="#000" stroke-width="1" fill="none"/><path d="M605.80 19.32V27.72M601.30 19.32H610.30M601.30 27.72H610.30" stroke="#000" stroke-width="1" fill="none"/><path d="M618.10 28.46V36.85M613.60 28.46H622.60M613.60 36.85H622.60" stroke="#000" stroke-width="1" fill="none"/><path d="M630.40 43.27V51.66M625.90 43.27H634.90M625.90 51.66H634.90" stroke="#000" stroke-width="1" fill="none"/><path d="M642.70 53.14V61.53M638.20 53.14H647.20M638.20 61.53H647.20" stroke="#000" stroke-width="1" fill="none"/><path d="M655.00 58.82V67.21M650.50 58.82H659.50M650.50 67.21H659.50" stroke="#000" stroke-width="1" fill="none"/><path d="M667.30 61.78V70.17M662.80 61.78H671.80M662.80 70.17H671.80" stroke="#000" stroke-width="1" fill="none"/><path d="M679.60 66.47V74.86M675.10 66.47H684.10M675.10 74.86H684.10" stroke="#000" stroke-width="1" fill="none"/><path d="M691.90 70.42V78.81M687.40 70.42H696.40M687.40 78.81H696.40" stroke="#000" stroke-width="1" fill="none"/><path d="M704.20 77.08V85.47M699.70 77.08H708.70M699.70 85.47H708.70" stroke="#000" stroke-width="1" fill="none"/><path d="M716.50 89.67V98.06M712.00 89.67H721.00M712.00 98.06H721.00" stroke="#000" stroke-width="1" fill="none"/><path d="M728.80 119.78V128.18M724.30 119.78H733.30M724.30 128.18H733.30" stroke="#000" stroke-width="1" fill="none"/><path d="M741.10 130.89V139.28M736.60 130.89H745.60M736.60 139.28H745.60" stroke="#000" stroke-width="1" fill="none"/><path d="M753.40 154.84V163.23M748.90 154.84H757.90M748.90 163.23H757.90" stroke="#000" stroke-width="1" fill="none"/><path d="M765.70 159.77V168.16M761.20 159.77H770.20M761.20 168.16H770.20" stroke="#000" stroke-width="1" fill="none"/><circle cx="593.50" cy="168.41" r="4.0" fill="#000" stroke="#000" stroke-width="0.8"/><circle cx="605.80" cy="23.52" r="4.0" fill="#000" stroke="#000" stroke-width="0.8"/><circle cx="618.10" cy="32.65" r="4.0" fill="#000" stroke="#000" stroke-width="0.8"/><circle cx="630.40" cy="47.46" r="4.0" fill="#000" stroke="#000" stroke-width="0.8"/><circle cx="642.70" cy="57.34" r="4.0" fill="#000" stroke="#000" stroke-width="0.8"/><circle cx="655.00" cy="63.01" r="4.0" fill="#000" stroke="#000" stroke-width="0.8"/><circle cx="667.30" cy="65.97" r="4.0" fill="#000" stroke="#000" stroke-width="0.8"/><circle cx="679.60" cy="70.66" r="4.0" fill="#000" stroke="#000" stroke-width="0.8"/><circle cx="691.90" cy="74.61" r="4.0" fill="#000" stroke="#000" stroke-width="0.8"/><circle cx="704.20" cy="81.28" r="4.0" fill="#000" stroke="#000" stroke-width="0.8"/><circle cx="716.50" cy="93.87" r="4.0" fill="#000" stroke="#000" stroke-width="0.8"/><circle cx="728.80" cy="123.98" r="4.0" fill="#000" stroke="#000" stroke-width="0.8"/><circle cx="741.10" cy="135.09" r="4.0" fill="#000" stroke="#000" stroke-width="0.8"/><circle cx="753.40" cy="159.03" r="4.0" fill="#000" stroke="#000" stroke-width="0.8"/><circle cx="765.70" cy="163.97" r="4.0" fill="#000" stroke="#000" stroke-width="0.8"/><path d="M593.50 171.13V179.52M589.00 171.13H598.00M589.00 179.52H598.00" stroke="#000" stroke-width="1" fill="none"/><path d="M605.80 20.56V28.95M601.30 20.56H610.30M601.30 28.95H610.30" stroke="#000" stroke-width="1" fill="none"/><path d="M618.10 25.99V34.38M613.60 25.99H622.60M613.60 34.38H622.60" stroke="#000" stroke-width="1" fill="none"/><path d="M630.40 39.32V47.71M625.90 39.32H634.90M625.90 47.71H634.90" stroke="#000" stroke-width="1" fill="none"/><path d="M642.70 47.71V56.10M638.20 47.71H647.20M638.20 56.10H647.20" stroke="#000" stroke-width="1" fill="none"/><path d="M655.00 53.39V61.78M650.50 53.39H659.50M650.50 61.78H659.50" stroke="#000" stroke-width="1" fill="none"/><path d="M667.30 57.58V65.97M662.80 57.58H671.80M662.80 65.97H671.80" stroke="#000" stroke-width="1" fill="none"/><path d="M679.60 63.01V71.41M675.10 63.01H684.10M675.10 71.41H684.10" stroke="#000" stroke-width="1" fill="none"/><path d="M691.90 67.95V76.34M687.40 67.95H696.40M687.40 76.34H696.40" stroke="#000" stroke-width="1" fill="none"/><path d="M704.20 75.35V83.75M699.70 75.35H708.70M699.70 83.75H708.70" stroke="#000" stroke-width="1" fill="none"/><path d="M716.50 89.42V97.82M712.00 89.42H721.00M712.00 97.82H721.00" stroke="#000" stroke-width="1" fill="none"/><path d="M728.80 103.00V111.39M724.30 103.00H733.30M724.30 111.39H733.30" stroke="#000" stroke-width="1" fill="none"/><path d="M741.10 122.25V130.65M736.60 122.25H745.60M736.60 130.65H745.60" stroke="#000" stroke-width="1" fill="none"/><path d="M753.40 137.31V145.70M748.90 137.31H757.90M748.90 145.70H757.90" stroke="#000" stroke-width="1" fill="none"/><path d="M765.70 162.98V171.37M761.20 162.98H770.20M761.20 171.37H770.20" stroke="#000" stroke-width="1" fill="none"/><circle cx="593.50" cy="175.32" r="3.6" fill="#fff" stroke="#000" stroke-width="1"/><circle cx="605.80" cy="24.75" r="3.6" fill="#fff" stroke="#000" stroke-width="1"/><circle cx="618.10" cy="30.18" r="3.6" fill="#fff" stroke="#000" stroke-width="1"/><circle cx="630.40" cy="43.51" r="3.6" fill="#fff" stroke="#000" stroke-width="1"/><circle cx="642.70" cy="51.91" r="3.6" fill="#fff" stroke="#000" stroke-width="1"/><circle cx="655.00" cy="57.58" r="3.6" fill="#fff" stroke="#000" stroke-width="1"/><circle cx="667.30" cy="61.78" r="3.6" fill="#fff" stroke="#000" stroke-width="1"/><circle cx="679.60" cy="67.21" r="3.6" fill="#fff" stroke="#000" stroke-width="1"/><circle cx="691.90" cy="72.15" r="3.6" fill="#fff" stroke="#000" stroke-width="1"/><circle cx="704.20" cy="79.55" r="3.6" fill="#fff" stroke="#000" stroke-width="1"/><circle cx="716.50" cy="93.62" r="3.6" fill="#fff" stroke="#000" stroke-width="1"/><circle cx="728.80" cy="107.20" r="3.6" fill="#fff" stroke="#000" stroke-width="1"/><circle cx="741.10" cy="126.45" r="3.6" fill="#fff" stroke="#000" stroke-width="1"/><circle cx="753.40" cy="141.51" r="3.6" fill="#fff" stroke="#000" stroke-width="1"/><circle cx="765.70" cy="167.18" r="3.6" fill="#fff" stroke="#000" stroke-width="1"/><path d="M593.50 166.68V175.08M589.00 166.68H598.00M589.00 175.08H598.00" stroke="#000" stroke-width="1" fill="none"/><path d="M605.80 21.79V30.18M601.30 21.79H610.30M601.30 30.18H610.30" stroke="#000" stroke-width="1" fill="none"/><path d="M618.10 25.99V34.38M613.60 25.99H622.60M613.60 34.38H622.60" stroke="#000" stroke-width="1" fill="none"/><path d="M630.40 43.27V51.66M625.90 43.27H634.90M625.90 51.66H634.90" stroke="#000" stroke-width="1" fill="none"/><path d="M642.70 53.14V61.53M638.20 53.14H647.20M638.20 61.53H647.20" stroke="#000" stroke-width="1" fill="none"/><path d="M655.00 59.31V67.70M650.50 59.31H659.50M650.50 67.70H659.50" stroke="#000" stroke-width="1" fill="none"/><path d="M667.30 63.01V71.41M662.80 63.01H671.80M662.80 71.41H671.80" stroke="#000" stroke-width="1" fill="none"/><path d="M679.60 66.72V75.11M675.10 66.72H684.10M675.10 75.11H684.10" stroke="#000" stroke-width="1" fill="none"/><path d="M691.90 71.65V80.04M687.40 71.65H696.40M687.40 80.04H696.40" stroke="#000" stroke-width="1" fill="none"/><path d="M704.20 80.29V88.68M699.70 80.29H708.70M699.70 88.68H708.70" stroke="#000" stroke-width="1" fill="none"/><path d="M716.50 92.63V101.03M712.00 92.63H721.00M712.00 101.03H721.00" stroke="#000" stroke-width="1" fill="none"/><path d="M728.80 122.25V130.65M724.30 122.25H733.30M724.30 130.65H733.30" stroke="#000" stroke-width="1" fill="none"/><path d="M741.10 137.31V145.70M736.60 137.31H745.60M736.60 145.70H745.60" stroke="#000" stroke-width="1" fill="none"/><path d="M753.40 159.28V167.67M748.90 159.28H757.90M748.90 167.67H757.90" stroke="#000" stroke-width="1" fill="none"/><path d="M765.70 166.68V175.08M761.20 166.68H770.20M761.20 175.08H770.20" stroke="#000" stroke-width="1" fill="none"/><polygon points="588.80,168.28 598.20,168.28 593.50,176.08" fill="#000" stroke="#000" stroke-width="0.5" stroke-linejoin="miter"/><polygon points="601.10,23.39 610.50,23.39 605.80,31.19" fill="#000" stroke="#000" stroke-width="0.5" stroke-linejoin="miter"/><polygon points="613.40,27.58 622.80,27.58 618.10,35.38" fill="#000" stroke="#000" stroke-width="0.5" stroke-linejoin="miter"/><polygon points="625.70,44.86 635.10,44.86 630.40,52.66" fill="#000" stroke="#000" stroke-width="0.5" stroke-linejoin="miter"/><polygon points="638.00,54.74 647.40,54.74 642.70,62.54" fill="#000" stroke="#000" stroke-width="0.5" stroke-linejoin="miter"/><polygon points="650.30,60.91 659.70,60.91 655.00,68.71" fill="#000" stroke="#000" stroke-width="0.5" stroke-linejoin="miter"/><polygon points="662.60,64.61 672.00,64.61 667.30,72.41" fill="#000" stroke="#000" stroke-width="0.5" stroke-linejoin="miter"/><polygon points="674.90,68.31 684.30,68.31 679.60,76.11" fill="#000" stroke="#000" stroke-width="0.5" stroke-linejoin="miter"/><polygon points="687.20,73.25 696.60,73.25 691.90,81.05" fill="#000" stroke="#000" stroke-width="0.5" stroke-linejoin="miter"/><polygon points="699.50,81.89 708.90,81.89 704.20,89.69" fill="#000" stroke="#000" stroke-width="0.5" stroke-linejoin="miter"/><polygon points="711.80,94.23 721.20,94.23 716.50,102.03" fill="#000" stroke="#000" stroke-width="0.5" stroke-linejoin="miter"/><polygon points="724.10,123.85 733.50,123.85 728.80,131.65" fill="#000" stroke="#000" stroke-width="0.5" stroke-linejoin="miter"/><polygon points="736.40,138.91 745.80,138.91 741.10,146.71" fill="#000" stroke="#000" stroke-width="0.5" stroke-linejoin="miter"/><polygon points="748.70,160.87 758.10,160.87 753.40,168.67" fill="#000" stroke="#000" stroke-width="0.5" stroke-linejoin="miter"/><polygon points="761.00,168.28 770.40,168.28 765.70,176.08" fill="#000" stroke="#000" stroke-width="0.5" stroke-linejoin="miter"/><path d="M593.50 157.30V165.70M589.00 157.30H598.00M589.00 165.70H598.00" stroke="#000" stroke-width="1" fill="none"/><path d="M605.80 16.85V25.25M601.30 16.85H610.30M601.30 25.25H610.30" stroke="#000" stroke-width="1" fill="none"/><path d="M618.10 17.35V25.74M613.60 17.35H622.60M613.60 25.74H622.60" stroke="#000" stroke-width="1" fill="none"/><path d="M630.40 42.03V50.42M625.90 42.03H634.90M625.90 50.42H634.90" stroke="#000" stroke-width="1" fill="none"/><path d="M642.70 53.14V61.53M638.20 53.14H647.20M638.20 61.53H647.20" stroke="#000" stroke-width="1" fill="none"/><path d="M655.00 60.54V68.94M650.50 60.54H659.50M650.50 68.94H659.50" stroke="#000" stroke-width="1" fill="none"/><path d="M667.30 68.44V76.84M662.80 68.44H671.80M662.80 76.84H671.80" stroke="#000" stroke-width="1" fill="none"/><path d="M679.60 72.39V80.78M675.10 72.39H684.10M675.10 80.78H684.10" stroke="#000" stroke-width="1" fill="none"/><path d="M691.90 78.56V86.96M687.40 78.56H696.40M687.40 86.96H696.40" stroke="#000" stroke-width="1" fill="none"/><path d="M704.20 82.76V91.15M699.70 82.76H708.70M699.70 91.15H708.70" stroke="#000" stroke-width="1" fill="none"/><path d="M716.50 112.38V120.77M712.00 112.38H721.00M712.00 120.77H721.00" stroke="#000" stroke-width="1" fill="none"/><path d="M728.80 130.89V139.28M724.30 130.89H733.30M724.30 139.28H733.30" stroke="#000" stroke-width="1" fill="none"/><path d="M741.10 144.47V152.86M736.60 144.47H745.60M736.60 152.86H745.60" stroke="#000" stroke-width="1" fill="none"/><path d="M753.40 161.75V170.14M748.90 161.75H757.90M748.90 170.14H757.90" stroke="#000" stroke-width="1" fill="none"/><path d="M765.70 166.68V175.08M761.20 166.68H770.20M761.20 175.08H770.20" stroke="#000" stroke-width="1" fill="none"/><polygon points="589.40,159.40 597.60,159.40 593.50,165.80" fill="#fff" stroke="#000" stroke-width="1"/><polygon points="601.70,18.95 609.90,18.95 605.80,25.35" fill="#fff" stroke="#000" stroke-width="1"/><polygon points="614.00,19.44 622.20,19.44 618.10,25.84" fill="#fff" stroke="#000" stroke-width="1"/><polygon points="626.30,44.13 634.50,44.13 630.40,50.53" fill="#fff" stroke="#000" stroke-width="1"/><polygon points="638.60,55.24 646.80,55.24 642.70,61.64" fill="#fff" stroke="#000" stroke-width="1"/><polygon points="650.90,62.64 659.10,62.64 655.00,69.04" fill="#fff" stroke="#000" stroke-width="1"/><polygon points="663.20,70.54 671.40,70.54 667.30,76.94" fill="#fff" stroke="#000" stroke-width="1"/><polygon points="675.50,74.49 683.70,74.49 679.60,80.89" fill="#fff" stroke="#000" stroke-width="1"/><polygon points="687.80,80.66 696.00,80.66 691.90,87.06" fill="#fff" stroke="#000" stroke-width="1"/><polygon points="700.10,84.86 708.30,84.86 704.20,91.26" fill="#fff" stroke="#000" stroke-width="1"/><polygon points="712.40,114.48 720.60,114.48 716.50,120.88" fill="#fff" stroke="#000" stroke-width="1"/><polygon points="724.70,132.99 732.90,132.99 728.80,139.39" fill="#fff" stroke="#000" stroke-width="1"/><polygon points="737.00,146.56 745.20,146.56 741.10,152.96" fill="#fff" stroke="#000" stroke-width="1"/><polygon points="749.30,163.84 757.50,163.84 753.40,170.24" fill="#fff" stroke="#000" stroke-width="1"/><polygon points="761.60,168.78 769.80,168.78 765.70,175.18" fill="#fff" stroke="#000" stroke-width="1"/><path d="M593.50 164.22V172.61M589.00 164.22H598.00M589.00 172.61H598.00" stroke="#000" stroke-width="1" fill="none"/><path d="M605.80 20.56V28.95M601.30 20.56H610.30M601.30 28.95H610.30" stroke="#000" stroke-width="1" fill="none"/><path d="M618.10 28.46V36.85M613.60 28.46H622.60M613.60 36.85H622.60" stroke="#000" stroke-width="1" fill="none"/><path d="M630.40 45.24V53.63M625.90 45.24H634.90M625.90 53.63H634.90" stroke="#000" stroke-width="1" fill="none"/><path d="M642.70 53.39V61.78M638.20 53.39H647.20M638.20 61.78H647.20" stroke="#000" stroke-width="1" fill="none"/><path d="M655.00 59.56V67.95M650.50 59.56H659.50M650.50 67.95H659.50" stroke="#000" stroke-width="1" fill="none"/><path d="M667.30 62.27V70.66M662.80 62.27H671.80M662.80 70.66H671.80" stroke="#000" stroke-width="1" fill="none"/><path d="M679.60 66.47V74.86M675.10 66.47H684.10M675.10 74.86H684.10" stroke="#000" stroke-width="1" fill="none"/><path d="M691.90 69.92V78.32M687.40 69.92H696.40M687.40 78.32H696.40" stroke="#000" stroke-width="1" fill="none"/><path d="M704.20 83.25V91.65M699.70 83.25H708.70M699.70 91.65H708.70" stroke="#000" stroke-width="1" fill="none"/><path d="M716.50 98.56V106.95M712.00 98.56H721.00M712.00 106.95H721.00" stroke="#000" stroke-width="1" fill="none"/><path d="M728.80 130.89V139.28M724.30 130.89H733.30M724.30 139.28H733.30" stroke="#000" stroke-width="1" fill="none"/><path d="M741.10 153.60V161.99M736.60 153.60H745.60M736.60 161.99H745.60" stroke="#000" stroke-width="1" fill="none"/><path d="M753.40 164.71V173.10M748.90 164.71H757.90M748.90 173.10H757.90" stroke="#000" stroke-width="1" fill="none"/><path d="M765.70 168.66V177.05M761.20 168.66H770.20M761.20 177.05H770.20" stroke="#000" stroke-width="1" fill="none"/><rect x="589.70" y="164.61" width="7.6" height="7.6" fill="#000"/><rect x="602.00" y="20.95" width="7.6" height="7.6" fill="#000"/><rect x="614.30" y="28.85" width="7.6" height="7.6" fill="#000"/><rect x="626.60" y="45.64" width="7.6" height="7.6" fill="#000"/><rect x="638.90" y="53.78" width="7.6" height="7.6" fill="#000"/><rect x="651.20" y="59.95" width="7.6" height="7.6" fill="#000"/><rect x="663.50" y="62.67" width="7.6" height="7.6" fill="#000"/><rect x="675.80" y="66.86" width="7.6" height="7.6" fill="#000"/><rect x="688.10" y="70.32" width="7.6" height="7.6" fill="#000"/><rect x="700.40" y="83.65" width="7.6" height="7.6" fill="#000"/><rect x="712.70" y="98.95" width="7.6" height="7.6" fill="#000"/><rect x="725.00" y="131.29" width="7.6" height="7.6" fill="#000"/><rect x="737.30" y="154.00" width="7.6" height="7.6" fill="#000"/><rect x="749.60" y="165.11" width="7.6" height="7.6" fill="#000"/><rect x="761.90" y="169.05" width="7.6" height="7.6" fill="#000"/></g>
<rect x="581.20" y="5.50" width="195.20" height="195.00" fill="none" stroke="#000" stroke-width="1.0"/>
<line x1="575.00" y1="178.28" x2="581.20" y2="178.28" stroke="#000" stroke-width="1.0"/>
<text x="569.00" y="182.73" font-size="12.5" text-anchor="end">0.0</text>
<line x1="575.00" y1="153.60" x2="581.20" y2="153.60" stroke="#000" stroke-width="1.0"/>
<text x="569.00" y="158.05" font-size="12.5" text-anchor="end">0.1</text>
<line x1="575.00" y1="128.92" x2="581.20" y2="128.92" stroke="#000" stroke-width="1.0"/>
<text x="569.00" y="133.37" font-size="12.5" text-anchor="end">0.2</text>
<line x1="575.00" y1="104.23" x2="581.20" y2="104.23" stroke="#000" stroke-width="1.0"/>
<text x="569.00" y="108.68" font-size="12.5" text-anchor="end">0.3</text>
<line x1="575.00" y1="79.55" x2="581.20" y2="79.55" stroke="#000" stroke-width="1.0"/>
<text x="569.00" y="84.00" font-size="12.5" text-anchor="end">0.4</text>
<line x1="575.00" y1="54.87" x2="581.20" y2="54.87" stroke="#000" stroke-width="1.0"/>
<text x="569.00" y="59.32" font-size="12.5" text-anchor="end">0.5</text>
<line x1="575.00" y1="30.18" x2="581.20" y2="30.18" stroke="#000" stroke-width="1.0"/>
<text x="569.00" y="34.63" font-size="12.5" text-anchor="end">0.6</text>
<line x1="575.00" y1="5.50" x2="581.20" y2="5.50" stroke="#000" stroke-width="1.0"/>
<text x="569.00" y="9.95" font-size="12.5" text-anchor="end">0.7</text>
<text transform="translate(539.80,103.00) rotate(-90)" x="0" y="0" font-size="17.1" text-anchor="middle">Process diameter (μm)</text>
<g><polyline points="64.80,383.07 77.10,362.72 89.40,289.24 101.70,247.41 114.00,267.20 126.30,301.11 138.60,312.98 150.90,337.85 163.20,349.15 175.50,366.11 187.80,368.93 200.10,378.54 212.40,379.67 224.70,380.24 237.00,380.80" fill="none" stroke="#000" stroke-width="1.1" stroke-linejoin="round"/><polyline points="64.80,383.07 77.10,372.89 89.40,301.67 101.70,259.28 114.00,288.11 126.30,292.63 138.60,319.76 150.90,346.33 163.20,346.33 175.50,359.89 187.80,371.76 200.10,368.93 212.40,379.67 224.70,380.24 237.00,380.80" fill="none" stroke="#000" stroke-width="1.1" stroke-linejoin="round"/><polyline points="64.80,383.07 77.10,362.72 89.40,284.15 101.70,237.24 114.00,261.54 126.30,286.98 138.60,307.33 150.90,335.02 163.20,338.98 175.50,366.11 187.80,374.02 200.10,378.54 212.40,380.24 224.70,380.24 237.00,380.80" fill="none" stroke="#000" stroke-width="1.1" stroke-linejoin="round"/><polyline points="64.80,383.07 77.10,356.50 89.40,281.33 101.70,255.89 114.00,254.20 126.30,294.33 138.60,328.80 150.90,343.50 163.20,346.33 175.50,377.41 187.80,376.28 200.10,381.37 212.40,384.76 224.70,380.80 237.00,380.80" fill="none" stroke="#000" stroke-width="1.1" stroke-linejoin="round"/><polyline points="64.80,383.07 77.10,344.07 89.40,273.41 101.70,249.11 114.00,271.72 126.30,279.07 138.60,312.41 150.90,335.02 163.20,358.20 175.50,368.93 187.80,370.63 200.10,379.67 212.40,379.67 224.70,380.24 237.00,380.80" fill="none" stroke="#000" stroke-width="1.1" stroke-linejoin="round"/><path d="M64.80 380.80V385.33M60.30 380.80H69.30M60.30 385.33H69.30" stroke="#000" stroke-width="1" fill="none"/><path d="M77.10 358.93V366.50M72.60 358.93H81.60M72.60 366.50H81.60" stroke="#000" stroke-width="1" fill="none"/><path d="M89.40 279.94V298.54M84.90 279.94H93.90M84.90 298.54H93.90" stroke="#000" stroke-width="1" fill="none"/><path d="M101.70 234.98V259.85M97.20 234.98H106.20M97.20 259.85H106.20" stroke="#000" stroke-width="1" fill="none"/><path d="M114.00 256.24V278.15M109.50 256.24H118.50M109.50 278.15H118.50" stroke="#000" stroke-width="1" fill="none"/><path d="M126.30 292.70V309.52M121.80 292.70H130.80M121.80 309.52H130.80" stroke="#000" stroke-width="1" fill="none"/><path d="M138.60 305.46V320.50M134.10 305.46H143.10M134.10 320.50H143.10" stroke="#000" stroke-width="1" fill="none"/><path d="M150.90 332.20V343.50M146.40 332.20H155.40M146.40 343.50H155.40" stroke="#000" stroke-width="1" fill="none"/><path d="M163.20 344.35V353.96M158.70 344.35H167.70M158.70 353.96H167.70" stroke="#000" stroke-width="1" fill="none"/><path d="M175.50 362.58V369.64M171.00 362.58H180.00M171.00 369.64H180.00" stroke="#000" stroke-width="1" fill="none"/><path d="M187.80 365.61V372.26M183.30 365.61H192.30M183.30 372.26H192.30" stroke="#000" stroke-width="1" fill="none"/><path d="M200.10 375.94V381.14M195.60 375.94H204.60M195.60 381.14H204.60" stroke="#000" stroke-width="1" fill="none"/><path d="M212.40 377.16V382.19M207.90 377.16H216.90M207.90 382.19H216.90" stroke="#000" stroke-width="1" fill="none"/><path d="M224.70 377.77V382.71M220.20 377.77H229.20M220.20 382.71H229.20" stroke="#000" stroke-width="1" fill="none"/><path d="M237.00 378.37V383.23M232.50 378.37H241.50M232.50 383.23H241.50" stroke="#000" stroke-width="1" fill="none"/><circle cx="64.80" cy="383.07" r="4.0" fill="#000" stroke="#000" stroke-width="0.8"/><circle cx="77.10" cy="362.72" r="4.0" fill="#000" stroke="#000" stroke-width="0.8"/><circle cx="89.40" cy="289.24" r="4.0" fill="#000" stroke="#000" stroke-width="0.8"/><circle cx="101.70" cy="247.41" r="4.0" fill="#000" stroke="#000" stroke-width="0.8"/><circle cx="114.00" cy="267.20" r="4.0" fill="#000" stroke="#000" stroke-width="0.8"/><circle cx="126.30" cy="301.11" r="4.0" fill="#000" stroke="#000" stroke-width="0.8"/><circle cx="138.60" cy="312.98" r="4.0" fill="#000" stroke="#000" stroke-width="0.8"/><circle cx="150.90" cy="337.85" r="4.0" fill="#000" stroke="#000" stroke-width="0.8"/><circle cx="163.20" cy="349.15" r="4.0" fill="#000" stroke="#000" stroke-width="0.8"/><circle cx="175.50" cy="366.11" r="4.0" fill="#000" stroke="#000" stroke-width="0.8"/><circle cx="187.80" cy="368.93" r="4.0" fill="#000" stroke="#000" stroke-width="0.8"/><circle cx="200.10" cy="378.54" r="4.0" fill="#000" stroke="#000" stroke-width="0.8"/><circle cx="212.40" cy="379.67" r="4.0" fill="#000" stroke="#000" stroke-width="0.8"/><circle cx="224.70" cy="380.24" r="4.0" fill="#000" stroke="#000" stroke-width="0.8"/><circle cx="237.00" cy="380.80" r="4.0" fill="#000" stroke="#000" stroke-width="0.8"/><path d="M64.80 380.80V385.33M60.30 380.80H69.30M60.30 385.33H69.30" stroke="#000" stroke-width="1" fill="none"/><path d="M77.10 369.87V375.92M72.60 369.87H81.60M72.60 375.92H81.60" stroke="#000" stroke-width="1" fill="none"/><path d="M89.40 293.31V310.04M84.90 293.31H93.90M84.90 310.04H93.90" stroke="#000" stroke-width="1" fill="none"/><path d="M101.70 247.74V270.83M97.20 247.74H106.20M97.20 270.83H106.20" stroke="#000" stroke-width="1" fill="none"/><path d="M114.00 278.73V297.49M109.50 278.73H118.50M109.50 297.49H118.50" stroke="#000" stroke-width="1" fill="none"/><path d="M126.30 283.59V301.67M121.80 283.59H130.80M121.80 301.67H130.80" stroke="#000" stroke-width="1" fill="none"/><path d="M138.60 312.75V326.77M134.10 312.75H143.10M134.10 326.77H143.10" stroke="#000" stroke-width="1" fill="none"/><path d="M150.90 341.31V351.34M146.40 341.31H155.40M146.40 351.34H155.40" stroke="#000" stroke-width="1" fill="none"/><path d="M163.20 341.31V351.34M158.70 341.31H167.70M158.70 351.34H167.70" stroke="#000" stroke-width="1" fill="none"/><path d="M175.50 355.89V363.89M171.00 355.89H180.00M171.00 363.89H180.00" stroke="#000" stroke-width="1" fill="none"/><path d="M187.80 368.65V374.87M183.30 368.65H192.30M183.30 374.87H192.30" stroke="#000" stroke-width="1" fill="none"/><path d="M200.10 365.61V372.26M195.60 365.61H204.60M195.60 372.26H204.60" stroke="#000" stroke-width="1" fill="none"/><path d="M212.40 377.16V382.19M207.90 377.16H216.90M207.90 382.19H216.90" stroke="#000" stroke-width="1" fill="none"/><path d="M224.70 377.77V382.71M220.20 377.77H229.20M220.20 382.71H229.20" stroke="#000" stroke-width="1" fill="none"/><path d="M237.00 378.37V383.23M232.50 378.37H241.50M232.50 383.23H241.50" stroke="#000" stroke-width="1" fill="none"/><circle cx="64.80" cy="383.07" r="3.6" fill="#fff" stroke="#000" stroke-width="1"/><circle cx="77.10" cy="372.89" r="3.6" fill="#fff" stroke="#000" stroke-width="1"/><circle cx="89.40" cy="301.67" r="3.6" fill="#fff" stroke="#000" stroke-width="1"/><circle cx="101.70" cy="259.28" r="3.6" fill="#fff" stroke="#000" stroke-width="1"/><circle cx="114.00" cy="288.11" r="3.6" fill="#fff" stroke="#000" stroke-width="1"/><circle cx="126.30" cy="292.63" r="3.6" fill="#fff" stroke="#000" stroke-width="1"/><circle cx="138.60" cy="319.76" r="3.6" fill="#fff" stroke="#000" stroke-width="1"/><circle cx="150.90" cy="346.33" r="3.6" fill="#fff" stroke="#000" stroke-width="1"/><circle cx="163.20" cy="346.33" r="3.6" fill="#fff" stroke="#000" stroke-width="1"/><circle cx="175.50" cy="359.89" r="3.6" fill="#fff" stroke="#000" stroke-width="1"/><circle cx="187.80" cy="371.76" r="3.6" fill="#fff" stroke="#000" stroke-width="1"/><circle cx="200.10" cy="368.93" r="3.6" fill="#fff" stroke="#000" stroke-width="1"/><circle cx="212.40" cy="379.67" r="3.6" fill="#fff" stroke="#000" stroke-width="1"/><circle cx="224.70" cy="380.24" r="3.6" fill="#fff" stroke="#000" stroke-width="1"/><circle cx="237.00" cy="380.80" r="3.6" fill="#fff" stroke="#000" stroke-width="1"/><path d="M64.80 380.80V385.33M60.30 380.80H69.30M60.30 385.33H69.30" stroke="#000" stroke-width="1" fill="none"/><path d="M77.10 358.93V366.50M72.60 358.93H81.60M72.60 366.50H81.60" stroke="#000" stroke-width="1" fill="none"/><path d="M89.40 274.47V293.83M84.90 274.47H93.90M84.90 293.83H93.90" stroke="#000" stroke-width="1" fill="none"/><path d="M101.70 224.04V250.44M97.20 224.04H106.20M97.20 250.44H106.20" stroke="#000" stroke-width="1" fill="none"/><path d="M114.00 250.17V272.92M109.50 250.17H118.50M109.50 272.92H118.50" stroke="#000" stroke-width="1" fill="none"/><path d="M126.30 277.51V296.45M121.80 277.51H130.80M121.80 296.45H130.80" stroke="#000" stroke-width="1" fill="none"/><path d="M138.60 299.38V315.27M134.10 299.38H143.10M134.10 315.27H143.10" stroke="#000" stroke-width="1" fill="none"/><path d="M150.90 329.16V340.89M146.40 329.16H155.40M146.40 340.89H155.40" stroke="#000" stroke-width="1" fill="none"/><path d="M163.20 329.37V348.59M158.70 329.37H167.70M158.70 348.59H167.70" stroke="#000" stroke-width="1" fill="none"/><path d="M175.50 362.58V369.64M171.00 362.58H180.00M171.00 369.64H180.00" stroke="#000" stroke-width="1" fill="none"/><path d="M187.80 371.08V376.96M183.30 371.08H192.30M183.30 376.96H192.30" stroke="#000" stroke-width="1" fill="none"/><path d="M200.10 375.94V381.14M195.60 375.94H204.60M195.60 381.14H204.60" stroke="#000" stroke-width="1" fill="none"/><path d="M212.40 377.77V382.71M207.90 377.77H216.90M207.90 382.71H216.90" stroke="#000" stroke-width="1" fill="none"/><path d="M224.70 377.77V382.71M220.20 377.77H229.20M220.20 382.71H229.20" stroke="#000" stroke-width="1" fill="none"/><path d="M237.00 378.37V383.23M232.50 378.37H241.50M232.50 383.23H241.50" stroke="#000" stroke-width="1" fill="none"/><polygon points="60.10,380.47 69.50,380.47 64.80,388.27" fill="#000" stroke="#000" stroke-width="0.5" stroke-linejoin="miter"/><polygon points="72.40,360.12 81.80,360.12 77.10,367.92" fill="#000" stroke="#000" stroke-width="0.5" stroke-linejoin="miter"/><polygon points="84.70,281.55 94.10,281.55 89.40,289.35" fill="#000" stroke="#000" stroke-width="0.5" stroke-linejoin="miter"/><polygon points="97.00,234.64 106.40,234.64 101.70,242.44" fill="#000" stroke="#000" stroke-width="0.5" stroke-linejoin="miter"/><polygon points="109.30,258.94 118.70,258.94 114.00,266.74" fill="#000" stroke="#000" stroke-width="0.5" stroke-linejoin="miter"/><polygon points="121.60,284.38 131.00,284.38 126.30,292.18" fill="#000" stroke="#000" stroke-width="0.5" stroke-linejoin="miter"/><polygon points="133.90,304.73 143.30,304.73 138.60,312.53" fill="#000" stroke="#000" stroke-width="0.5" stroke-linejoin="miter"/><polygon points="146.20,332.42 155.60,332.42 150.90,340.22" fill="#000" stroke="#000" stroke-width="0.5" stroke-linejoin="miter"/><polygon points="158.50,336.38 167.90,336.38 163.20,344.18" fill="#000" stroke="#000" stroke-width="0.5" stroke-linejoin="miter"/><polygon points="170.80,363.51 180.20,363.51 175.50,371.31" fill="#000" stroke="#000" stroke-width="0.5" stroke-linejoin="miter"/><polygon points="183.10,371.42 192.50,371.42 187.80,379.22" fill="#000" stroke="#000" stroke-width="0.5" stroke-linejoin="miter"/><polygon points="195.40,375.94 204.80,375.94 200.10,383.74" fill="#000" stroke="#000" stroke-width="0.5" stroke-linejoin="miter"/><polygon points="207.70,377.64 217.10,377.64 212.40,385.44" fill="#000" stroke="#000" stroke-width="0.5" stroke-linejoin="miter"/><polygon points="220.00,377.64 229.40,377.64 224.70,385.44" fill="#000" stroke="#000" stroke-width="0.5" stroke-linejoin="miter"/><polygon points="232.30,378.20 241.70,378.20 237.00,386.00" fill="#000" stroke="#000" stroke-width="0.5" stroke-linejoin="miter"/><path d="M64.80 380.80V385.33M60.30 380.80H69.30M60.30 385.33H69.30" stroke="#000" stroke-width="1" fill="none"/><path d="M77.10 352.25V360.75M72.60 352.25H81.60M72.60 360.75H81.60" stroke="#000" stroke-width="1" fill="none"/><path d="M89.40 271.43V291.22M84.90 271.43H93.90M84.90 291.22H93.90" stroke="#000" stroke-width="1" fill="none"/><path d="M101.70 244.09V267.69M97.20 244.09H106.20M97.20 267.69H106.20" stroke="#000" stroke-width="1" fill="none"/><path d="M114.00 242.27V266.12M109.50 242.27H118.50M109.50 266.12H118.50" stroke="#000" stroke-width="1" fill="none"/><path d="M126.30 285.41V303.24M121.80 285.41H130.80M121.80 303.24H130.80" stroke="#000" stroke-width="1" fill="none"/><path d="M138.60 322.47V335.13M134.10 322.47H143.10M134.10 335.13H143.10" stroke="#000" stroke-width="1" fill="none"/><path d="M150.90 338.27V348.73M146.40 338.27H155.40M146.40 348.73H155.40" stroke="#000" stroke-width="1" fill="none"/><path d="M163.20 341.31V351.34M158.70 341.31H167.70M158.70 351.34H167.70" stroke="#000" stroke-width="1" fill="none"/><path d="M175.50 374.73V380.10M171.00 374.73H180.00M171.00 380.10H180.00" stroke="#000" stroke-width="1" fill="none"/><path d="M187.80 373.51V379.05M183.30 373.51H192.30M183.30 379.05H192.30" stroke="#000" stroke-width="1" fill="none"/><path d="M200.10 378.98V383.76M195.60 378.98H204.60M195.60 383.76H204.60" stroke="#000" stroke-width="1" fill="none"/><path d="M212.40 382.37V387.15M207.90 382.37H216.90M207.90 387.15H216.90" stroke="#000" stroke-width="1" fill="none"/><path d="M224.70 378.37V383.23M220.20 378.37H229.20M220.20 383.23H229.20" stroke="#000" stroke-width="1" fill="none"/><path d="M237.00 378.37V383.23M232.50 378.37H241.50M232.50 383.23H241.50" stroke="#000" stroke-width="1" fill="none"/><polygon points="60.70,380.97 68.90,380.97 64.80,387.37" fill="#fff" stroke="#000" stroke-width="1"/><polygon points="73.00,354.40 81.20,354.40 77.10,360.80" fill="#fff" stroke="#000" stroke-width="1"/><polygon points="85.30,279.23 93.50,279.23 89.40,285.63" fill="#fff" stroke="#000" stroke-width="1"/><polygon points="97.60,253.79 105.80,253.79 101.70,260.19" fill="#fff" stroke="#000" stroke-width="1"/><polygon points="109.90,252.10 118.10,252.10 114.00,258.50" fill="#fff" stroke="#000" stroke-width="1"/><polygon points="122.20,292.23 130.40,292.23 126.30,298.63" fill="#fff" stroke="#000" stroke-width="1"/><polygon points="134.50,326.70 142.70,326.70 138.60,333.10" fill="#fff" stroke="#000" stroke-width="1"/><polygon points="146.80,341.40 155.00,341.40 150.90,347.80" fill="#fff" stroke="#000" stroke-width="1"/><polygon points="159.10,344.23 167.30,344.23 163.20,350.63" fill="#fff" stroke="#000" stroke-width="1"/><polygon points="171.40,375.31 179.60,375.31 175.50,381.71" fill="#fff" stroke="#000" stroke-width="1"/><polygon points="183.70,374.18 191.90,374.18 187.80,380.58" fill="#fff" stroke="#000" stroke-width="1"/><polygon points="196.00,379.27 204.20,379.27 200.10,385.67" fill="#fff" stroke="#000" stroke-width="1"/><polygon points="208.30,382.66 216.50,382.66 212.40,389.06" fill="#fff" stroke="#000" stroke-width="1"/><polygon points="220.60,378.70 228.80,378.70 224.70,385.10" fill="#fff" stroke="#000" stroke-width="1"/><polygon points="232.90,378.70 241.10,378.70 237.00,385.10" fill="#fff" stroke="#000" stroke-width="1"/><path d="M64.80 380.80V385.33M60.30 380.80H69.30M60.30 385.33H69.30" stroke="#000" stroke-width="1" fill="none"/><path d="M77.10 338.88V349.25M72.60 338.88H81.60M72.60 349.25H81.60" stroke="#000" stroke-width="1" fill="none"/><path d="M89.40 262.93V283.90M84.90 262.93H93.90M84.90 283.90H93.90" stroke="#000" stroke-width="1" fill="none"/><path d="M101.70 236.80V261.42M97.20 236.80H106.20M97.20 261.42H106.20" stroke="#000" stroke-width="1" fill="none"/><path d="M114.00 261.11V282.33M109.50 261.11H118.50M109.50 282.33H118.50" stroke="#000" stroke-width="1" fill="none"/><path d="M126.30 269.00V289.13M121.80 269.00H130.80M121.80 289.13H130.80" stroke="#000" stroke-width="1" fill="none"/><path d="M138.60 304.85V319.97M134.10 304.85H143.10M134.10 319.97H143.10" stroke="#000" stroke-width="1" fill="none"/><path d="M150.90 329.16V340.89M146.40 329.16H155.40M146.40 340.89H155.40" stroke="#000" stroke-width="1" fill="none"/><path d="M163.20 354.07V362.32M158.70 354.07H167.70M158.70 362.32H167.70" stroke="#000" stroke-width="1" fill="none"/><path d="M175.50 365.61V372.26M171.00 365.61H180.00M171.00 372.26H180.00" stroke="#000" stroke-width="1" fill="none"/><path d="M187.80 367.44V373.82M183.30 367.44H192.30M183.30 373.82H192.30" stroke="#000" stroke-width="1" fill="none"/><path d="M200.10 377.16V382.19M195.60 377.16H204.60M195.60 382.19H204.60" stroke="#000" stroke-width="1" fill="none"/><path d="M212.40 377.16V382.19M207.90 377.16H216.90M207.90 382.19H216.90" stroke="#000" stroke-width="1" fill="none"/><path d="M224.70 377.77V382.71M220.20 377.77H229.20M220.20 382.71H229.20" stroke="#000" stroke-width="1" fill="none"/><path d="M237.00 378.37V383.23M232.50 378.37H241.50M232.50 383.23H241.50" stroke="#000" stroke-width="1" fill="none"/><rect x="61.00" y="379.27" width="7.6" height="7.6" fill="#000"/><rect x="73.30" y="340.27" width="7.6" height="7.6" fill="#000"/><rect x="85.60" y="269.61" width="7.6" height="7.6" fill="#000"/><rect x="97.90" y="245.31" width="7.6" height="7.6" fill="#000"/><rect x="110.20" y="267.92" width="7.6" height="7.6" fill="#000"/><rect x="122.50" y="275.27" width="7.6" height="7.6" fill="#000"/><rect x="134.80" y="308.61" width="7.6" height="7.6" fill="#000"/><rect x="147.10" y="331.22" width="7.6" height="7.6" fill="#000"/><rect x="159.40" y="354.40" width="7.6" height="7.6" fill="#000"/><rect x="171.70" y="365.13" width="7.6" height="7.6" fill="#000"/><rect x="184.00" y="366.83" width="7.6" height="7.6" fill="#000"/><rect x="196.30" y="375.87" width="7.6" height="7.6" fill="#000"/><rect x="208.60" y="375.87" width="7.6" height="7.6" fill="#000"/><rect x="220.90" y="376.44" width="7.6" height="7.6" fill="#000"/><rect x="233.20" y="377.00" width="7.6" height="7.6" fill="#000"/></g>
<rect x="52.50" y="213.50" width="194.70" height="195.00" fill="none" stroke="#000" stroke-width="1.0"/>
<line x1="46.30" y1="383.07" x2="52.50" y2="383.07" stroke="#000" stroke-width="1.0"/>
<text x="40.30" y="387.52" font-size="12.5" text-anchor="end">0.0</text>
<line x1="46.30" y1="354.80" x2="52.50" y2="354.80" stroke="#000" stroke-width="1.0"/>
<text x="40.30" y="359.25" font-size="12.5" text-anchor="end">0.5</text>
<line x1="46.30" y1="326.54" x2="52.50" y2="326.54" stroke="#000" stroke-width="1.0"/>
<text x="40.30" y="330.99" font-size="12.5" text-anchor="end">1.0</text>
<line x1="46.30" y1="298.28" x2="52.50" y2="298.28" stroke="#000" stroke-width="1.0"/>
<text x="40.30" y="302.73" font-size="12.5" text-anchor="end">1.5</text>
<line x1="46.30" y1="270.02" x2="52.50" y2="270.02" stroke="#000" stroke-width="1.0"/>
<text x="40.30" y="274.47" font-size="12.5" text-anchor="end">2.0</text>
<line x1="46.30" y1="241.76" x2="52.50" y2="241.76" stroke="#000" stroke-width="1.0"/>
<text x="40.30" y="246.21" font-size="12.5" text-anchor="end">2.5</text>
<line x1="46.30" y1="213.50" x2="52.50" y2="213.50" stroke="#000" stroke-width="1.0"/>
<text x="40.30" y="217.95" font-size="12.5" text-anchor="end">3.0</text>
<line x1="52.50" y1="408.50" x2="52.50" y2="412.80" stroke="#000" stroke-width="1.0"/>
<text x="52.50" y="426.8" font-size="10.4" text-anchor="middle">0</text>
<line x1="73.00" y1="408.50" x2="73.00" y2="412.80" stroke="#000" stroke-width="1.0"/>
<text x="73.00" y="426.8" font-size="10.4" text-anchor="middle">5</text>
<line x1="93.50" y1="408.50" x2="93.50" y2="412.80" stroke="#000" stroke-width="1.0"/>
<text x="93.50" y="426.8" font-size="10.4" text-anchor="middle">10</text>
<line x1="114.00" y1="408.50" x2="114.00" y2="412.80" stroke="#000" stroke-width="1.0"/>
<text x="114.00" y="426.8" font-size="10.4" text-anchor="middle">15</text>
<line x1="134.50" y1="408.50" x2="134.50" y2="412.80" stroke="#000" stroke-width="1.0"/>
<text x="134.50" y="426.8" font-size="10.4" text-anchor="middle">20</text>
<line x1="155.00" y1="408.50" x2="155.00" y2="412.80" stroke="#000" stroke-width="1.0"/>
<text x="155.00" y="426.8" font-size="10.4" text-anchor="middle">25</text>
<line x1="175.50" y1="408.50" x2="175.50" y2="412.80" stroke="#000" stroke-width="1.0"/>
<text x="175.50" y="426.8" font-size="10.4" text-anchor="middle">30</text>
<line x1="196.00" y1="408.50" x2="196.00" y2="412.80" stroke="#000" stroke-width="1.0"/>
<text x="196.00" y="426.8" font-size="10.4" text-anchor="middle">35</text>
<line x1="216.50" y1="408.50" x2="216.50" y2="412.80" stroke="#000" stroke-width="1.0"/>
<text x="216.50" y="426.8" font-size="10.4" text-anchor="middle">40</text>
<line x1="237.00" y1="408.50" x2="237.00" y2="412.80" stroke="#000" stroke-width="1.0"/>
<text x="237.00" y="426.8" font-size="10.4" text-anchor="middle">45</text>
<text x="149.85" y="450.6" font-size="16.8" text-anchor="middle">Radius</text>
<text transform="translate(13.00,311.00) rotate(-90)" x="0" y="0" font-size="17.1" text-anchor="middle">Nodes</text>
<g><polyline points="328.70,382.08 341.00,382.08 353.30,348.87 365.60,272.85 377.90,255.89 390.20,262.96 402.50,277.09 414.80,294.04 427.10,318.07 439.40,335.02 451.70,351.98 464.00,364.70 476.30,373.88 488.60,378.12 500.90,379.53" fill="none" stroke="#000" stroke-width="1.1" stroke-linejoin="round"/><polyline points="328.70,382.08 341.00,382.08 353.30,356.36 365.60,288.53 377.90,263.52 390.20,267.48 402.50,277.09 414.80,287.97 427.10,310.29 439.40,332.20 451.70,340.82 464.00,352.12 476.30,365.54 488.60,375.01 500.90,378.83" fill="none" stroke="#000" stroke-width="1.1" stroke-linejoin="round"/><polyline points="328.70,382.08 341.00,382.08 353.30,350.57 365.60,276.80 377.90,255.89 390.20,261.54 402.50,274.26 414.80,291.22 427.10,315.24 439.40,340.67 451.70,356.22 464.00,367.52 476.30,376.00 488.60,378.83 500.90,379.53" fill="none" stroke="#000" stroke-width="1.1" stroke-linejoin="round"/><polyline points="328.70,382.08 341.00,382.08 353.30,339.26 365.60,256.74 377.90,245.01 390.20,261.54 402.50,284.15 414.80,304.22 427.10,330.08 439.40,346.33 451.70,365.12 464.00,374.59 476.30,380.10 488.60,381.65 500.90,383.77" fill="none" stroke="#000" stroke-width="1.1" stroke-linejoin="round"/><polyline points="328.70,382.08 341.00,382.08 353.30,336.29 365.60,266.77 377.90,254.20 390.20,258.29 402.50,274.12 414.80,294.33 427.10,319.62 439.40,332.90 451.70,350.14 464.00,362.58 476.30,372.47 488.60,378.12 500.90,379.53" fill="none" stroke="#000" stroke-width="1.1" stroke-linejoin="round"/><path d="M328.70 381.86V382.29M324.20 381.86H333.20M324.20 382.29H333.20" stroke="#000" stroke-width="1" fill="none"/><path d="M341.00 381.86V382.29M336.50 381.86H345.50M336.50 382.29H345.50" stroke="#000" stroke-width="1" fill="none"/><path d="M353.30 344.36V353.38M348.80 344.36H357.80M348.80 353.38H357.80" stroke="#000" stroke-width="1" fill="none"/><path d="M365.60 263.01V282.68M361.10 263.01H370.10M361.10 282.68H370.10" stroke="#000" stroke-width="1" fill="none"/><path d="M377.90 244.87V266.91M373.40 244.87H382.40M373.40 266.91H382.40" stroke="#000" stroke-width="1" fill="none"/><path d="M390.20 252.43V273.48M385.70 252.43H394.70M385.70 273.48H394.70" stroke="#000" stroke-width="1" fill="none"/><path d="M402.50 267.55V286.62M398.00 267.55H407.00M398.00 286.62H407.00" stroke="#000" stroke-width="1" fill="none"/><path d="M414.80 285.69V302.39M410.30 285.69H419.30M410.30 302.39H419.30" stroke="#000" stroke-width="1" fill="none"/><path d="M427.10 311.40V324.73M422.60 311.40H431.60M422.60 324.73H431.60" stroke="#000" stroke-width="1" fill="none"/><path d="M439.40 329.54V340.50M434.90 329.54H443.90M434.90 340.50H443.90" stroke="#000" stroke-width="1" fill="none"/><path d="M451.70 347.68V356.27M447.20 347.68H456.20M447.20 356.27H456.20" stroke="#000" stroke-width="1" fill="none"/><path d="M464.00 361.29V368.10M459.50 361.29H468.50M459.50 368.10H468.50" stroke="#000" stroke-width="1" fill="none"/><path d="M476.30 371.86V375.90M471.80 371.86H480.80M471.80 375.90H480.80" stroke="#000" stroke-width="1" fill="none"/><path d="M488.60 377.03V379.21M484.10 377.03H493.10M484.10 379.21H493.10" stroke="#000" stroke-width="1" fill="none"/><path d="M500.90 378.76V380.31M496.40 378.76H505.40M496.40 380.31H505.40" stroke="#000" stroke-width="1" fill="none"/><circle cx="328.70" cy="382.08" r="4.0" fill="#000" stroke="#000" stroke-width="0.8"/><circle cx="341.00" cy="382.08" r="4.0" fill="#000" stroke="#000" stroke-width="0.8"/><circle cx="353.30" cy="348.87" r="4.0" fill="#000" stroke="#000" stroke-width="0.8"/><circle cx="365.60" cy="272.85" r="4.0" fill="#000" stroke="#000" stroke-width="0.8"/><circle cx="377.90" cy="255.89" r="4.0" fill="#000" stroke="#000" stroke-width="0.8"/><circle cx="390.20" cy="262.96" r="4.0" fill="#000" stroke="#000" stroke-width="0.8"/><circle cx="402.50" cy="277.09" r="4.0" fill="#000" stroke="#000" stroke-width="0.8"/><circle cx="414.80" cy="294.04" r="4.0" fill="#000" stroke="#000" stroke-width="0.8"/><circle cx="427.10" cy="318.07" r="4.0" fill="#000" stroke="#000" stroke-width="0.8"/><circle cx="439.40" cy="335.02" r="4.0" fill="#000" stroke="#000" stroke-width="0.8"/><circle cx="451.70" cy="351.98" r="4.0" fill="#000" stroke="#000" stroke-width="0.8"/><circle cx="464.00" cy="364.70" r="4.0" fill="#000" stroke="#000" stroke-width="0.8"/><circle cx="476.30" cy="373.88" r="4.0" fill="#000" stroke="#000" stroke-width="0.8"/><circle cx="488.60" cy="378.12" r="4.0" fill="#000" stroke="#000" stroke-width="0.8"/><circle cx="500.90" cy="379.53" r="4.0" fill="#000" stroke="#000" stroke-width="0.8"/><path d="M328.70 381.86V382.29M324.20 381.86H333.20M324.20 382.29H333.20" stroke="#000" stroke-width="1" fill="none"/><path d="M341.00 381.86V382.29M336.50 381.86H345.50M336.50 382.29H345.50" stroke="#000" stroke-width="1" fill="none"/><path d="M353.30 352.37V360.35M348.80 352.37H357.80M348.80 360.35H357.80" stroke="#000" stroke-width="1" fill="none"/><path d="M365.60 279.80V297.27M361.10 279.80H370.10M361.10 297.27H370.10" stroke="#000" stroke-width="1" fill="none"/><path d="M377.90 253.03V274.01M373.40 253.03H382.40M373.40 274.01H382.40" stroke="#000" stroke-width="1" fill="none"/><path d="M390.20 257.27V277.69M385.70 257.27H394.70M385.70 277.69H394.70" stroke="#000" stroke-width="1" fill="none"/><path d="M402.50 267.55V286.62M398.00 267.55H407.00M398.00 286.62H407.00" stroke="#000" stroke-width="1" fill="none"/><path d="M414.80 279.19V296.74M410.30 279.19H419.30M410.30 296.74H419.30" stroke="#000" stroke-width="1" fill="none"/><path d="M427.10 303.08V317.51M422.60 303.08H431.60M422.60 317.51H431.60" stroke="#000" stroke-width="1" fill="none"/><path d="M439.40 326.52V337.88M434.90 326.52H443.90M434.90 337.88H443.90" stroke="#000" stroke-width="1" fill="none"/><path d="M451.70 335.74V345.89M447.20 335.74H456.20M447.20 345.89H456.20" stroke="#000" stroke-width="1" fill="none"/><path d="M464.00 347.83V356.41M459.50 347.83H468.50M459.50 356.41H468.50" stroke="#000" stroke-width="1" fill="none"/><path d="M476.30 362.20V368.89M471.80 362.20H480.80M471.80 368.89H480.80" stroke="#000" stroke-width="1" fill="none"/><path d="M488.60 373.24V376.78M484.10 373.24H493.10M484.10 376.78H493.10" stroke="#000" stroke-width="1" fill="none"/><path d="M500.90 377.89V379.76M496.40 377.89H505.40M496.40 379.76H505.40" stroke="#000" stroke-width="1" fill="none"/><circle cx="328.70" cy="382.08" r="3.6" fill="#fff" stroke="#000" stroke-width="1"/><circle cx="341.00" cy="382.08" r="3.6" fill="#fff" stroke="#000" stroke-width="1"/><circle cx="353.30" cy="356.36" r="3.6" fill="#fff" stroke="#000" stroke-width="1"/><circle cx="365.60" cy="288.53" r="3.6" fill="#fff" stroke="#000" stroke-width="1"/><circle cx="377.90" cy="263.52" r="3.6" fill="#fff" stroke="#000" stroke-width="1"/><circle cx="390.20" cy="267.48" r="3.6" fill="#fff" stroke="#000" stroke-width="1"/><circle cx="402.50" cy="277.09" r="3.6" fill="#fff" stroke="#000" stroke-width="1"/><circle cx="414.80" cy="287.97" r="3.6" fill="#fff" stroke="#000" stroke-width="1"/><circle cx="427.10" cy="310.29" r="3.6" fill="#fff" stroke="#000" stroke-width="1"/><circle cx="439.40" cy="332.20" r="3.6" fill="#fff" stroke="#000" stroke-width="1"/><circle cx="451.70" cy="340.82" r="3.6" fill="#fff" stroke="#000" stroke-width="1"/><circle cx="464.00" cy="352.12" r="3.6" fill="#fff" stroke="#000" stroke-width="1"/><circle cx="476.30" cy="365.54" r="3.6" fill="#fff" stroke="#000" stroke-width="1"/><circle cx="488.60" cy="375.01" r="3.6" fill="#fff" stroke="#000" stroke-width="1"/><circle cx="500.90" cy="378.83" r="3.6" fill="#fff" stroke="#000" stroke-width="1"/><path d="M328.70 381.86V382.29M324.20 381.86H333.20M324.20 382.29H333.20" stroke="#000" stroke-width="1" fill="none"/><path d="M341.00 381.86V382.29M336.50 381.86H345.50M336.50 382.29H345.50" stroke="#000" stroke-width="1" fill="none"/><path d="M353.30 346.17V354.96M348.80 346.17H357.80M348.80 354.96H357.80" stroke="#000" stroke-width="1" fill="none"/><path d="M365.60 267.25V286.36M361.10 267.25H370.10M361.10 286.36H370.10" stroke="#000" stroke-width="1" fill="none"/><path d="M377.90 244.87V266.91M373.40 244.87H382.40M373.40 266.91H382.40" stroke="#000" stroke-width="1" fill="none"/><path d="M390.20 250.92V272.17M385.70 250.92H394.70M385.70 272.17H394.70" stroke="#000" stroke-width="1" fill="none"/><path d="M402.50 264.52V284.00M398.00 264.52H407.00M398.00 284.00H407.00" stroke="#000" stroke-width="1" fill="none"/><path d="M414.80 282.67V299.77M410.30 282.67H419.30M410.30 299.77H419.30" stroke="#000" stroke-width="1" fill="none"/><path d="M427.10 308.37V322.11M422.60 308.37H431.60M422.60 322.11H431.60" stroke="#000" stroke-width="1" fill="none"/><path d="M439.40 335.59V345.76M434.90 335.59H443.90M434.90 345.76H443.90" stroke="#000" stroke-width="1" fill="none"/><path d="M451.70 352.22V360.22M447.20 352.22H456.20M447.20 360.22H456.20" stroke="#000" stroke-width="1" fill="none"/><path d="M464.00 364.31V370.73M459.50 364.31H468.50M459.50 370.73H468.50" stroke="#000" stroke-width="1" fill="none"/><path d="M476.30 374.45V377.55M471.80 374.45H480.80M471.80 377.55H480.80" stroke="#000" stroke-width="1" fill="none"/><path d="M488.60 377.89V379.76M484.10 377.89H493.10M484.10 379.76H493.10" stroke="#000" stroke-width="1" fill="none"/><path d="M500.90 378.76V380.31M496.40 378.76H505.40M496.40 380.31H505.40" stroke="#000" stroke-width="1" fill="none"/><polygon points="324.00,379.48 333.40,379.48 328.70,387.28" fill="#000" stroke="#000" stroke-width="0.5" stroke-linejoin="miter"/><polygon points="336.30,379.48 345.70,379.48 341.00,387.28" fill="#000" stroke="#000" stroke-width="0.5" stroke-linejoin="miter"/><polygon points="348.60,347.97 358.00,347.97 353.30,355.77" fill="#000" stroke="#000" stroke-width="0.5" stroke-linejoin="miter"/><polygon points="360.90,274.20 370.30,274.20 365.60,282.00" fill="#000" stroke="#000" stroke-width="0.5" stroke-linejoin="miter"/><polygon points="373.20,253.29 382.60,253.29 377.90,261.09" fill="#000" stroke="#000" stroke-width="0.5" stroke-linejoin="miter"/><polygon points="385.50,258.94 394.90,258.94 390.20,266.74" fill="#000" stroke="#000" stroke-width="0.5" stroke-linejoin="miter"/><polygon points="397.80,271.66 407.20,271.66 402.50,279.46" fill="#000" stroke="#000" stroke-width="0.5" stroke-linejoin="miter"/><polygon points="410.10,288.62 419.50,288.62 414.80,296.42" fill="#000" stroke="#000" stroke-width="0.5" stroke-linejoin="miter"/><polygon points="422.40,312.64 431.80,312.64 427.10,320.44" fill="#000" stroke="#000" stroke-width="0.5" stroke-linejoin="miter"/><polygon points="434.70,338.07 444.10,338.07 439.40,345.87" fill="#000" stroke="#000" stroke-width="0.5" stroke-linejoin="miter"/><polygon points="447.00,353.62 456.40,353.62 451.70,361.42" fill="#000" stroke="#000" stroke-width="0.5" stroke-linejoin="miter"/><polygon points="459.30,364.92 468.70,364.92 464.00,372.72" fill="#000" stroke="#000" stroke-width="0.5" stroke-linejoin="miter"/><polygon points="471.60,373.40 481.00,373.40 476.30,381.20" fill="#000" stroke="#000" stroke-width="0.5" stroke-linejoin="miter"/><polygon points="483.90,376.23 493.30,376.23 488.60,384.03" fill="#000" stroke="#000" stroke-width="0.5" stroke-linejoin="miter"/><polygon points="496.20,376.93 505.60,376.93 500.90,384.73" fill="#000" stroke="#000" stroke-width="0.5" stroke-linejoin="miter"/><path d="M328.70 381.86V382.29M324.20 381.86H333.20M324.20 382.29H333.20" stroke="#000" stroke-width="1" fill="none"/><path d="M341.00 381.86V382.29M336.50 381.86H345.50M336.50 382.29H345.50" stroke="#000" stroke-width="1" fill="none"/><path d="M353.30 334.07V344.45M348.80 334.07H357.80M348.80 344.45H357.80" stroke="#000" stroke-width="1" fill="none"/><path d="M365.60 245.78V267.70M361.10 245.78H370.10M361.10 267.70H370.10" stroke="#000" stroke-width="1" fill="none"/><path d="M377.90 233.23V256.79M373.40 233.23H382.40M373.40 256.79H382.40" stroke="#000" stroke-width="1" fill="none"/><path d="M390.20 250.92V272.17M385.70 250.92H394.70M385.70 272.17H394.70" stroke="#000" stroke-width="1" fill="none"/><path d="M402.50 275.11V293.20M398.00 275.11H407.00M398.00 293.20H407.00" stroke="#000" stroke-width="1" fill="none"/><path d="M414.80 296.58V311.86M410.30 296.58H419.30M410.30 311.86H419.30" stroke="#000" stroke-width="1" fill="none"/><path d="M427.10 324.25V335.90M422.60 324.25H431.60M422.60 335.90H431.60" stroke="#000" stroke-width="1" fill="none"/><path d="M439.40 341.63V351.02M434.90 341.63H443.90M434.90 351.02H443.90" stroke="#000" stroke-width="1" fill="none"/><path d="M451.70 361.74V368.50M447.20 361.74H456.20M447.20 368.50H456.20" stroke="#000" stroke-width="1" fill="none"/><path d="M464.00 372.72V376.45M459.50 372.72H468.50M459.50 376.45H468.50" stroke="#000" stroke-width="1" fill="none"/><path d="M476.30 379.44V380.75M471.80 379.44H480.80M471.80 380.75H480.80" stroke="#000" stroke-width="1" fill="none"/><path d="M488.60 381.34V381.96M484.10 381.34H493.10M484.10 381.96H493.10" stroke="#000" stroke-width="1" fill="none"/><path d="M500.90 383.62V383.93M496.40 383.62H505.40M496.40 383.93H505.40" stroke="#000" stroke-width="1" fill="none"/><polygon points="324.60,379.98 332.80,379.98 328.70,386.38" fill="#fff" stroke="#000" stroke-width="1"/><polygon points="336.90,379.98 345.10,379.98 341.00,386.38" fill="#fff" stroke="#000" stroke-width="1"/><polygon points="349.20,337.16 357.40,337.16 353.30,343.56" fill="#fff" stroke="#000" stroke-width="1"/><polygon points="361.50,254.64 369.70,254.64 365.60,261.04" fill="#fff" stroke="#000" stroke-width="1"/><polygon points="373.80,242.91 382.00,242.91 377.90,249.31" fill="#fff" stroke="#000" stroke-width="1"/><polygon points="386.10,259.44 394.30,259.44 390.20,265.84" fill="#fff" stroke="#000" stroke-width="1"/><polygon points="398.40,282.05 406.60,282.05 402.50,288.45" fill="#fff" stroke="#000" stroke-width="1"/><polygon points="410.70,302.12 418.90,302.12 414.80,308.52" fill="#fff" stroke="#000" stroke-width="1"/><polygon points="423.00,327.98 431.20,327.98 427.10,334.38" fill="#fff" stroke="#000" stroke-width="1"/><polygon points="435.30,344.23 443.50,344.23 439.40,350.63" fill="#fff" stroke="#000" stroke-width="1"/><polygon points="447.60,363.02 455.80,363.02 451.70,369.42" fill="#fff" stroke="#000" stroke-width="1"/><polygon points="459.90,372.49 468.10,372.49 464.00,378.89" fill="#fff" stroke="#000" stroke-width="1"/><polygon points="472.20,378.00 480.40,378.00 476.30,384.40" fill="#fff" stroke="#000" stroke-width="1"/><polygon points="484.50,379.55 492.70,379.55 488.60,385.95" fill="#fff" stroke="#000" stroke-width="1"/><polygon points="496.80,381.67 505.00,381.67 500.90,388.07" fill="#fff" stroke="#000" stroke-width="1"/><path d="M328.70 381.86V382.29M324.20 381.86H333.20M324.20 382.29H333.20" stroke="#000" stroke-width="1" fill="none"/><path d="M341.00 381.86V382.29M336.50 381.86H345.50M336.50 382.29H345.50" stroke="#000" stroke-width="1" fill="none"/><path d="M353.30 330.90V341.69M348.80 330.90H357.80M348.80 341.69H357.80" stroke="#000" stroke-width="1" fill="none"/><path d="M365.60 256.51V277.03M361.10 256.51H370.10M361.10 277.03H370.10" stroke="#000" stroke-width="1" fill="none"/><path d="M377.90 243.06V265.34M373.40 243.06H382.40M373.40 265.34H382.40" stroke="#000" stroke-width="1" fill="none"/><path d="M390.20 247.44V269.15M385.70 247.44H394.70M385.70 269.15H394.70" stroke="#000" stroke-width="1" fill="none"/><path d="M402.50 264.37V283.87M398.00 264.37H407.00M398.00 283.87H407.00" stroke="#000" stroke-width="1" fill="none"/><path d="M414.80 285.99V302.66M410.30 285.99H419.30M410.30 302.66H419.30" stroke="#000" stroke-width="1" fill="none"/><path d="M427.10 313.06V326.18M422.60 313.06H431.60M422.60 326.18H431.60" stroke="#000" stroke-width="1" fill="none"/><path d="M439.40 327.27V338.53M434.90 327.27H443.90M434.90 338.53H443.90" stroke="#000" stroke-width="1" fill="none"/><path d="M451.70 345.72V354.57M447.20 345.72H456.20M447.20 354.57H456.20" stroke="#000" stroke-width="1" fill="none"/><path d="M464.00 359.02V366.13M459.50 359.02H468.50M459.50 366.13H468.50" stroke="#000" stroke-width="1" fill="none"/><path d="M476.30 370.14V374.80M471.80 370.14H480.80M471.80 374.80H480.80" stroke="#000" stroke-width="1" fill="none"/><path d="M488.60 377.03V379.21M484.10 377.03H493.10M484.10 379.21H493.10" stroke="#000" stroke-width="1" fill="none"/><path d="M500.90 378.76V380.31M496.40 378.76H505.40M496.40 380.31H505.40" stroke="#000" stroke-width="1" fill="none"/><rect x="324.90" y="378.28" width="7.6" height="7.6" fill="#000"/><rect x="337.20" y="378.28" width="7.6" height="7.6" fill="#000"/><rect x="349.50" y="332.49" width="7.6" height="7.6" fill="#000"/><rect x="361.80" y="262.97" width="7.6" height="7.6" fill="#000"/><rect x="374.10" y="250.40" width="7.6" height="7.6" fill="#000"/><rect x="386.40" y="254.49" width="7.6" height="7.6" fill="#000"/><rect x="398.70" y="270.32" width="7.6" height="7.6" fill="#000"/><rect x="411.00" y="290.53" width="7.6" height="7.6" fill="#000"/><rect x="423.30" y="315.82" width="7.6" height="7.6" fill="#000"/><rect x="435.60" y="329.10" width="7.6" height="7.6" fill="#000"/><rect x="447.90" y="346.34" width="7.6" height="7.6" fill="#000"/><rect x="460.20" y="358.78" width="7.6" height="7.6" fill="#000"/><rect x="472.50" y="368.67" width="7.6" height="7.6" fill="#000"/><rect x="484.80" y="374.32" width="7.6" height="7.6" fill="#000"/><rect x="497.10" y="375.73" width="7.6" height="7.6" fill="#000"/></g>
<rect x="316.40" y="213.50" width="195.20" height="195.00" fill="none" stroke="#000" stroke-width="1.0"/>
<line x1="310.20" y1="383.07" x2="316.40" y2="383.07" stroke="#000" stroke-width="1.0"/>
<text x="304.20" y="387.52" font-size="12.5" text-anchor="end">0</text>
<line x1="310.20" y1="354.80" x2="316.40" y2="354.80" stroke="#000" stroke-width="1.0"/>
<text x="304.20" y="359.25" font-size="12.5" text-anchor="end">2</text>
<line x1="310.20" y1="326.54" x2="316.40" y2="326.54" stroke="#000" stroke-width="1.0"/>
<text x="304.20" y="330.99" font-size="12.5" text-anchor="end">4</text>
<line x1="310.20" y1="298.28" x2="316.40" y2="298.28" stroke="#000" stroke-width="1.0"/>
<text x="304.20" y="302.73" font-size="12.5" text-anchor="end">6</text>
<line x1="310.20" y1="270.02" x2="316.40" y2="270.02" stroke="#000" stroke-width="1.0"/>
<text x="304.20" y="274.47" font-size="12.5" text-anchor="end">8</text>
<line x1="310.20" y1="241.76" x2="316.40" y2="241.76" stroke="#000" stroke-width="1.0"/>
<text x="304.20" y="246.21" font-size="12.5" text-anchor="end">10</text>
<line x1="310.20" y1="213.50" x2="316.40" y2="213.50" stroke="#000" stroke-width="1.0"/>
<text x="304.20" y="217.95" font-size="12.5" text-anchor="end">12</text>
<line x1="316.40" y1="408.50" x2="316.40" y2="412.80" stroke="#000" stroke-width="1.0"/>
<text x="316.40" y="429.1" font-size="12" text-anchor="middle">0</text>
<line x1="336.90" y1="408.50" x2="336.90" y2="412.80" stroke="#000" stroke-width="1.0"/>
<text x="336.90" y="429.1" font-size="12" text-anchor="middle">5</text>
<line x1="357.40" y1="408.50" x2="357.40" y2="412.80" stroke="#000" stroke-width="1.0"/>
<text x="357.40" y="429.1" font-size="12" text-anchor="middle">10</text>
<line x1="377.90" y1="408.50" x2="377.90" y2="412.80" stroke="#000" stroke-width="1.0"/>
<text x="377.90" y="429.1" font-size="12" text-anchor="middle">15</text>
<line x1="398.40" y1="408.50" x2="398.40" y2="412.80" stroke="#000" stroke-width="1.0"/>
<text x="398.40" y="429.1" font-size="12" text-anchor="middle">20</text>
<line x1="418.90" y1="408.50" x2="418.90" y2="412.80" stroke="#000" stroke-width="1.0"/>
<text x="418.90" y="429.1" font-size="12" text-anchor="middle">25</text>
<line x1="439.40" y1="408.50" x2="439.40" y2="412.80" stroke="#000" stroke-width="1.0"/>
<text x="439.40" y="429.1" font-size="12" text-anchor="middle">30</text>
<line x1="459.90" y1="408.50" x2="459.90" y2="412.80" stroke="#000" stroke-width="1.0"/>
<text x="459.90" y="429.1" font-size="12" text-anchor="middle">35</text>
<line x1="480.40" y1="408.50" x2="480.40" y2="412.80" stroke="#000" stroke-width="1.0"/>
<text x="480.40" y="429.1" font-size="12" text-anchor="middle">40</text>
<line x1="500.90" y1="408.50" x2="500.90" y2="412.80" stroke="#000" stroke-width="1.0"/>
<text x="500.90" y="429.1" font-size="12" text-anchor="middle">45</text>
<text x="414.00" y="449.9" font-size="16.8" text-anchor="middle">Radius</text>
<text transform="translate(276.40,311.00) rotate(-90)" x="0" y="0" font-size="17.4" text-anchor="middle">Process volume (μm<tspan font-size="16.4" dy="-5.5" dx="0.6">3</tspan><tspan dy="5.5">)</tspan></text>
<g><polyline points="593.50,372.19 605.80,345.22 618.10,279.16 630.40,253.30 642.70,249.32 655.00,257.28 667.30,273.19 679.60,299.06 691.90,314.98 704.20,334.88 716.50,348.81 728.80,361.34 741.10,364.72 753.40,368.11 765.70,368.90" fill="none" stroke="#000" stroke-width="1.1" stroke-linejoin="round"/><polyline points="593.50,372.19 605.80,349.60 618.10,288.52 630.40,260.26 642.70,255.48 655.00,254.29 667.30,273.19 679.60,297.07 691.90,312.99 704.20,326.92 716.50,339.06 728.80,353.58 741.10,362.73 753.40,367.71 765.70,368.70" fill="none" stroke="#000" stroke-width="1.1" stroke-linejoin="round"/><polyline points="593.50,372.19 605.80,345.22 618.10,279.36 630.40,238.77 642.70,245.34 655.00,254.29 667.30,271.20 679.60,294.29 691.90,311.40 704.20,336.87 716.50,350.80 728.80,362.34 741.10,364.72 753.40,368.11 765.70,368.90" fill="none" stroke="#000" stroke-width="1.1" stroke-linejoin="round"/><polyline points="593.50,372.19 605.80,336.87 618.10,273.19 630.40,247.33 642.70,246.33 655.00,259.27 667.30,277.17 679.60,303.04 691.90,328.91 704.20,349.20 716.50,361.54 728.80,368.11 741.10,368.90 753.40,372.68 765.70,373.88" fill="none" stroke="#000" stroke-width="1.1" stroke-linejoin="round"/><polyline points="593.50,372.19 605.80,333.88 618.10,270.81 630.40,248.92 642.70,244.94 655.00,258.87 667.30,272.80 679.60,301.85 691.90,318.16 704.20,339.85 716.50,353.78 728.80,363.73 741.10,365.72 753.40,368.11 765.70,368.90" fill="none" stroke="#000" stroke-width="1.1" stroke-linejoin="round"/><path d="M593.50 370.18V374.20M589.00 370.18H598.00M589.00 374.20H598.00" stroke="#000" stroke-width="1" fill="none"/><path d="M605.80 342.14V348.31M601.30 342.14H610.30M601.30 348.31H610.30" stroke="#000" stroke-width="1" fill="none"/><path d="M618.10 273.43V284.89M613.60 273.43H622.60M613.60 284.89H622.60" stroke="#000" stroke-width="1" fill="none"/><path d="M630.40 246.53V260.06M625.90 246.53H634.90M625.90 260.06H634.90" stroke="#000" stroke-width="1" fill="none"/><path d="M642.70 242.39V256.24M638.20 242.39H647.20M638.20 256.24H647.20" stroke="#000" stroke-width="1" fill="none"/><path d="M655.00 250.67V263.88M650.50 250.67H659.50M650.50 263.88H659.50" stroke="#000" stroke-width="1" fill="none"/><path d="M667.30 267.22V279.16M662.80 267.22H671.80M662.80 279.16H671.80" stroke="#000" stroke-width="1" fill="none"/><path d="M679.60 294.13V304.00M675.10 294.13H684.10M675.10 304.00H684.10" stroke="#000" stroke-width="1" fill="none"/><path d="M691.90 310.68V319.28M687.40 310.68H696.40M687.40 319.28H696.40" stroke="#000" stroke-width="1" fill="none"/><path d="M704.20 331.38V338.38M699.70 331.38H708.70M699.70 338.38H708.70" stroke="#000" stroke-width="1" fill="none"/><path d="M716.50 345.86V351.75M712.00 345.86H721.00M712.00 351.75H721.00" stroke="#000" stroke-width="1" fill="none"/><path d="M728.80 358.90V363.79M724.30 358.90H733.30M724.30 363.79H733.30" stroke="#000" stroke-width="1" fill="none"/><path d="M741.10 362.42V367.03M736.60 362.42H745.60M736.60 367.03H745.60" stroke="#000" stroke-width="1" fill="none"/><path d="M753.40 365.93V370.28M748.90 365.93H757.90M748.90 370.28H757.90" stroke="#000" stroke-width="1" fill="none"/><path d="M765.70 366.76V371.04M761.20 366.76H770.20M761.20 371.04H770.20" stroke="#000" stroke-width="1" fill="none"/><circle cx="593.50" cy="372.19" r="4.0" fill="#000" stroke="#000" stroke-width="0.8"/><circle cx="605.80" cy="345.22" r="4.0" fill="#000" stroke="#000" stroke-width="0.8"/><circle cx="618.10" cy="279.16" r="4.0" fill="#000" stroke="#000" stroke-width="0.8"/><circle cx="630.40" cy="253.30" r="4.0" fill="#000" stroke="#000" stroke-width="0.8"/><circle cx="642.70" cy="249.32" r="4.0" fill="#000" stroke="#000" stroke-width="0.8"/><circle cx="655.00" cy="257.28" r="4.0" fill="#000" stroke="#000" stroke-width="0.8"/><circle cx="667.30" cy="273.19" r="4.0" fill="#000" stroke="#000" stroke-width="0.8"/><circle cx="679.60" cy="299.06" r="4.0" fill="#000" stroke="#000" stroke-width="0.8"/><circle cx="691.90" cy="314.98" r="4.0" fill="#000" stroke="#000" stroke-width="0.8"/><circle cx="704.20" cy="334.88" r="4.0" fill="#000" stroke="#000" stroke-width="0.8"/><circle cx="716.50" cy="348.81" r="4.0" fill="#000" stroke="#000" stroke-width="0.8"/><circle cx="728.80" cy="361.34" r="4.0" fill="#000" stroke="#000" stroke-width="0.8"/><circle cx="741.10" cy="364.72" r="4.0" fill="#000" stroke="#000" stroke-width="0.8"/><circle cx="753.40" cy="368.11" r="4.0" fill="#000" stroke="#000" stroke-width="0.8"/><circle cx="765.70" cy="368.90" r="4.0" fill="#000" stroke="#000" stroke-width="0.8"/><path d="M593.50 370.18V374.20M589.00 370.18H598.00M589.00 374.20H598.00" stroke="#000" stroke-width="1" fill="none"/><path d="M605.80 346.69V352.52M601.30 346.69H610.30M601.30 352.52H610.30" stroke="#000" stroke-width="1" fill="none"/><path d="M618.10 283.16V293.87M613.60 283.16H622.60M613.60 293.87H622.60" stroke="#000" stroke-width="1" fill="none"/><path d="M630.40 253.77V266.75M625.90 253.77H634.90M625.90 266.75H634.90" stroke="#000" stroke-width="1" fill="none"/><path d="M642.70 248.81V262.16M638.20 248.81H647.20M638.20 262.16H647.20" stroke="#000" stroke-width="1" fill="none"/><path d="M655.00 247.57V261.02M650.50 247.57H659.50M650.50 261.02H659.50" stroke="#000" stroke-width="1" fill="none"/><path d="M667.30 267.22V279.16M662.80 267.22H671.80M662.80 279.16H671.80" stroke="#000" stroke-width="1" fill="none"/><path d="M679.60 292.06V302.09M675.10 292.06H684.10M675.10 302.09H684.10" stroke="#000" stroke-width="1" fill="none"/><path d="M691.90 308.61V317.37M687.40 308.61H696.40M687.40 317.37H696.40" stroke="#000" stroke-width="1" fill="none"/><path d="M704.20 323.10V330.74M699.70 323.10H708.70M699.70 330.74H708.70" stroke="#000" stroke-width="1" fill="none"/><path d="M716.50 335.72V342.39M712.00 335.72H721.00M712.00 342.39H721.00" stroke="#000" stroke-width="1" fill="none"/><path d="M728.80 350.83V356.34M724.30 350.83H733.30M724.30 356.34H733.30" stroke="#000" stroke-width="1" fill="none"/><path d="M741.10 360.35V365.12M736.60 360.35H745.60M736.60 365.12H745.60" stroke="#000" stroke-width="1" fill="none"/><path d="M753.40 365.52V369.90M748.90 365.52H757.90M748.90 369.90H757.90" stroke="#000" stroke-width="1" fill="none"/><path d="M765.70 366.56V370.85M761.20 366.56H770.20M761.20 370.85H770.20" stroke="#000" stroke-width="1" fill="none"/><circle cx="593.50" cy="372.19" r="3.6" fill="#fff" stroke="#000" stroke-width="1"/><circle cx="605.80" cy="349.60" r="3.6" fill="#fff" stroke="#000" stroke-width="1"/><circle cx="618.10" cy="288.52" r="3.6" fill="#fff" stroke="#000" stroke-width="1"/><circle cx="630.40" cy="260.26" r="3.6" fill="#fff" stroke="#000" stroke-width="1"/><circle cx="642.70" cy="255.48" r="3.6" fill="#fff" stroke="#000" stroke-width="1"/><circle cx="655.00" cy="254.29" r="3.6" fill="#fff" stroke="#000" stroke-width="1"/><circle cx="667.30" cy="273.19" r="3.6" fill="#fff" stroke="#000" stroke-width="1"/><circle cx="679.60" cy="297.07" r="3.6" fill="#fff" stroke="#000" stroke-width="1"/><circle cx="691.90" cy="312.99" r="3.6" fill="#fff" stroke="#000" stroke-width="1"/><circle cx="704.20" cy="326.92" r="3.6" fill="#fff" stroke="#000" stroke-width="1"/><circle cx="716.50" cy="339.06" r="3.6" fill="#fff" stroke="#000" stroke-width="1"/><circle cx="728.80" cy="353.58" r="3.6" fill="#fff" stroke="#000" stroke-width="1"/><circle cx="741.10" cy="362.73" r="3.6" fill="#fff" stroke="#000" stroke-width="1"/><circle cx="753.40" cy="367.71" r="3.6" fill="#fff" stroke="#000" stroke-width="1"/><circle cx="765.70" cy="368.70" r="3.6" fill="#fff" stroke="#000" stroke-width="1"/><path d="M593.50 370.18V374.20M589.00 370.18H598.00M589.00 374.20H598.00" stroke="#000" stroke-width="1" fill="none"/><path d="M605.80 342.14V348.31M601.30 342.14H610.30M601.30 348.31H610.30" stroke="#000" stroke-width="1" fill="none"/><path d="M618.10 273.64V285.08M613.60 273.64H622.60M613.60 285.08H622.60" stroke="#000" stroke-width="1" fill="none"/><path d="M630.40 231.42V246.12M625.90 231.42H634.90M625.90 246.12H634.90" stroke="#000" stroke-width="1" fill="none"/><path d="M642.70 238.25V252.42M638.20 238.25H647.20M638.20 252.42H647.20" stroke="#000" stroke-width="1" fill="none"/><path d="M655.00 247.57V261.02M650.50 247.57H659.50M650.50 261.02H659.50" stroke="#000" stroke-width="1" fill="none"/><path d="M667.30 265.16V277.25M662.80 265.16H671.80M662.80 277.25H671.80" stroke="#000" stroke-width="1" fill="none"/><path d="M679.60 289.16V299.41M675.10 289.16H684.10M675.10 299.41H684.10" stroke="#000" stroke-width="1" fill="none"/><path d="M691.90 306.96V315.84M687.40 306.96H696.40M687.40 315.84H696.40" stroke="#000" stroke-width="1" fill="none"/><path d="M704.20 333.44V340.29M699.70 333.44H708.70M699.70 340.29H708.70" stroke="#000" stroke-width="1" fill="none"/><path d="M716.50 347.93V353.66M712.00 347.93H721.00M712.00 353.66H721.00" stroke="#000" stroke-width="1" fill="none"/><path d="M728.80 359.93V364.74M724.30 359.93H733.30M724.30 364.74H733.30" stroke="#000" stroke-width="1" fill="none"/><path d="M741.10 362.42V367.03M736.60 362.42H745.60M736.60 367.03H745.60" stroke="#000" stroke-width="1" fill="none"/><path d="M753.40 365.93V370.28M748.90 365.93H757.90M748.90 370.28H757.90" stroke="#000" stroke-width="1" fill="none"/><path d="M765.70 366.76V371.04M761.20 366.76H770.20M761.20 371.04H770.20" stroke="#000" stroke-width="1" fill="none"/><polygon points="588.80,369.59 598.20,369.59 593.50,377.39" fill="#000" stroke="#000" stroke-width="0.5" stroke-linejoin="miter"/><polygon points="601.10,342.62 610.50,342.62 605.80,350.42" fill="#000" stroke="#000" stroke-width="0.5" stroke-linejoin="miter"/><polygon points="613.40,276.76 622.80,276.76 618.10,284.56" fill="#000" stroke="#000" stroke-width="0.5" stroke-linejoin="miter"/><polygon points="625.70,236.17 635.10,236.17 630.40,243.97" fill="#000" stroke="#000" stroke-width="0.5" stroke-linejoin="miter"/><polygon points="638.00,242.74 647.40,242.74 642.70,250.54" fill="#000" stroke="#000" stroke-width="0.5" stroke-linejoin="miter"/><polygon points="650.30,251.69 659.70,251.69 655.00,259.49" fill="#000" stroke="#000" stroke-width="0.5" stroke-linejoin="miter"/><polygon points="662.60,268.60 672.00,268.60 667.30,276.40" fill="#000" stroke="#000" stroke-width="0.5" stroke-linejoin="miter"/><polygon points="674.90,291.69 684.30,291.69 679.60,299.49" fill="#000" stroke="#000" stroke-width="0.5" stroke-linejoin="miter"/><polygon points="687.20,308.80 696.60,308.80 691.90,316.60" fill="#000" stroke="#000" stroke-width="0.5" stroke-linejoin="miter"/><polygon points="699.50,334.27 708.90,334.27 704.20,342.07" fill="#000" stroke="#000" stroke-width="0.5" stroke-linejoin="miter"/><polygon points="711.80,348.20 721.20,348.20 716.50,356.00" fill="#000" stroke="#000" stroke-width="0.5" stroke-linejoin="miter"/><polygon points="724.10,359.74 733.50,359.74 728.80,367.54" fill="#000" stroke="#000" stroke-width="0.5" stroke-linejoin="miter"/><polygon points="736.40,362.12 745.80,362.12 741.10,369.92" fill="#000" stroke="#000" stroke-width="0.5" stroke-linejoin="miter"/><polygon points="748.70,365.51 758.10,365.51 753.40,373.31" fill="#000" stroke="#000" stroke-width="0.5" stroke-linejoin="miter"/><polygon points="761.00,366.30 770.40,366.30 765.70,374.10" fill="#000" stroke="#000" stroke-width="0.5" stroke-linejoin="miter"/><path d="M593.50 370.18V374.20M589.00 370.18H598.00M589.00 374.20H598.00" stroke="#000" stroke-width="1" fill="none"/><path d="M605.80 333.44V340.29M601.30 333.44H610.30M601.30 340.29H610.30" stroke="#000" stroke-width="1" fill="none"/><path d="M618.10 267.22V279.16M613.60 267.22H622.60M613.60 279.16H622.60" stroke="#000" stroke-width="1" fill="none"/><path d="M630.40 240.32V254.33M625.90 240.32H634.90M625.90 254.33H634.90" stroke="#000" stroke-width="1" fill="none"/><path d="M642.70 239.29V253.38M638.20 239.29H647.20M638.20 253.38H647.20" stroke="#000" stroke-width="1" fill="none"/><path d="M655.00 252.74V265.79M650.50 252.74H659.50M650.50 265.79H659.50" stroke="#000" stroke-width="1" fill="none"/><path d="M667.30 271.36V282.98M662.80 271.36H671.80M662.80 282.98H671.80" stroke="#000" stroke-width="1" fill="none"/><path d="M679.60 298.27V307.82M675.10 298.27H684.10M675.10 307.82H684.10" stroke="#000" stroke-width="1" fill="none"/><path d="M691.90 325.17V332.65M687.40 325.17H696.40M687.40 332.65H696.40" stroke="#000" stroke-width="1" fill="none"/><path d="M704.20 346.28V352.13M699.70 346.28H708.70M699.70 352.13H708.70" stroke="#000" stroke-width="1" fill="none"/><path d="M716.50 359.11V363.98M712.00 359.11H721.00M712.00 363.98H721.00" stroke="#000" stroke-width="1" fill="none"/><path d="M728.80 365.93V370.28M724.30 365.93H733.30M724.30 370.28H733.30" stroke="#000" stroke-width="1" fill="none"/><path d="M741.10 366.76V371.04M736.60 366.76H745.60M736.60 371.04H745.60" stroke="#000" stroke-width="1" fill="none"/><path d="M753.40 370.69V374.67M748.90 370.69H757.90M748.90 374.67H757.90" stroke="#000" stroke-width="1" fill="none"/><path d="M765.70 371.84V375.92M761.20 371.84H770.20M761.20 375.92H770.20" stroke="#000" stroke-width="1" fill="none"/><polygon points="589.40,370.09 597.60,370.09 593.50,376.49" fill="#fff" stroke="#000" stroke-width="1"/><polygon points="601.70,334.77 609.90,334.77 605.80,341.17" fill="#fff" stroke="#000" stroke-width="1"/><polygon points="614.00,271.09 622.20,271.09 618.10,277.49" fill="#fff" stroke="#000" stroke-width="1"/><polygon points="626.30,245.23 634.50,245.23 630.40,251.63" fill="#fff" stroke="#000" stroke-width="1"/><polygon points="638.60,244.23 646.80,244.23 642.70,250.63" fill="#fff" stroke="#000" stroke-width="1"/><polygon points="650.90,257.17 659.10,257.17 655.00,263.57" fill="#fff" stroke="#000" stroke-width="1"/><polygon points="663.20,275.07 671.40,275.07 667.30,281.47" fill="#fff" stroke="#000" stroke-width="1"/><polygon points="675.50,300.94 683.70,300.94 679.60,307.34" fill="#fff" stroke="#000" stroke-width="1"/><polygon points="687.80,326.81 696.00,326.81 691.90,333.21" fill="#fff" stroke="#000" stroke-width="1"/><polygon points="700.10,347.10 708.30,347.10 704.20,353.50" fill="#fff" stroke="#000" stroke-width="1"/><polygon points="712.40,359.44 720.60,359.44 716.50,365.84" fill="#fff" stroke="#000" stroke-width="1"/><polygon points="724.70,366.01 732.90,366.01 728.80,372.41" fill="#fff" stroke="#000" stroke-width="1"/><polygon points="737.00,366.80 745.20,366.80 741.10,373.20" fill="#fff" stroke="#000" stroke-width="1"/><polygon points="749.30,370.58 757.50,370.58 753.40,376.98" fill="#fff" stroke="#000" stroke-width="1"/><polygon points="761.60,371.78 769.80,371.78 765.70,378.18" fill="#fff" stroke="#000" stroke-width="1"/><path d="M593.50 370.18V374.20M589.00 370.18H598.00M589.00 374.20H598.00" stroke="#000" stroke-width="1" fill="none"/><path d="M605.80 330.34V337.42M601.30 330.34H610.30M601.30 337.42H610.30" stroke="#000" stroke-width="1" fill="none"/><path d="M618.10 264.74V276.87M613.60 264.74H622.60M613.60 276.87H622.60" stroke="#000" stroke-width="1" fill="none"/><path d="M630.40 241.98V255.86M625.90 241.98H634.90M625.90 255.86H634.90" stroke="#000" stroke-width="1" fill="none"/><path d="M642.70 237.84V252.04M638.20 237.84H647.20M638.20 252.04H647.20" stroke="#000" stroke-width="1" fill="none"/><path d="M655.00 252.32V265.41M650.50 252.32H659.50M650.50 265.41H659.50" stroke="#000" stroke-width="1" fill="none"/><path d="M667.30 266.81V278.78M662.80 266.81H671.80M662.80 278.78H671.80" stroke="#000" stroke-width="1" fill="none"/><path d="M679.60 297.02V306.67M675.10 297.02H684.10M675.10 306.67H684.10" stroke="#000" stroke-width="1" fill="none"/><path d="M691.90 313.99V322.33M687.40 313.99H696.40M687.40 322.33H696.40" stroke="#000" stroke-width="1" fill="none"/><path d="M704.20 336.55V343.16M699.70 336.55H708.70M699.70 343.16H708.70" stroke="#000" stroke-width="1" fill="none"/><path d="M716.50 351.03V356.53M712.00 351.03H721.00M712.00 356.53H721.00" stroke="#000" stroke-width="1" fill="none"/><path d="M728.80 361.38V366.08M724.30 361.38H733.30M724.30 366.08H733.30" stroke="#000" stroke-width="1" fill="none"/><path d="M741.10 363.45V367.99M736.60 363.45H745.60M736.60 367.99H745.60" stroke="#000" stroke-width="1" fill="none"/><path d="M753.40 365.93V370.28M748.90 365.93H757.90M748.90 370.28H757.90" stroke="#000" stroke-width="1" fill="none"/><path d="M765.70 366.76V371.04M761.20 366.76H770.20M761.20 371.04H770.20" stroke="#000" stroke-width="1" fill="none"/><rect x="589.70" y="368.39" width="7.6" height="7.6" fill="#000"/><rect x="602.00" y="330.08" width="7.6" height="7.6" fill="#000"/><rect x="614.30" y="267.01" width="7.6" height="7.6" fill="#000"/><rect x="626.60" y="245.12" width="7.6" height="7.6" fill="#000"/><rect x="638.90" y="241.14" width="7.6" height="7.6" fill="#000"/><rect x="651.20" y="255.07" width="7.6" height="7.6" fill="#000"/><rect x="663.50" y="269.00" width="7.6" height="7.6" fill="#000"/><rect x="675.80" y="298.05" width="7.6" height="7.6" fill="#000"/><rect x="688.10" y="314.36" width="7.6" height="7.6" fill="#000"/><rect x="700.40" y="336.05" width="7.6" height="7.6" fill="#000"/><rect x="712.70" y="349.98" width="7.6" height="7.6" fill="#000"/><rect x="725.00" y="359.93" width="7.6" height="7.6" fill="#000"/><rect x="737.30" y="361.92" width="7.6" height="7.6" fill="#000"/><rect x="749.60" y="364.31" width="7.6" height="7.6" fill="#000"/><rect x="761.90" y="365.10" width="7.6" height="7.6" fill="#000"/></g>
<rect x="581.20" y="213.50" width="195.20" height="195.00" fill="none" stroke="#000" stroke-width="1.0"/>
<line x1="575.00" y1="372.68" x2="581.20" y2="372.68" stroke="#000" stroke-width="1.0"/>
<text x="569.00" y="377.13" font-size="12.5" text-anchor="end">0</text>
<line x1="575.00" y1="332.89" x2="581.20" y2="332.89" stroke="#000" stroke-width="1.0"/>
<text x="569.00" y="337.34" font-size="12.5" text-anchor="end">20</text>
<line x1="575.00" y1="293.09" x2="581.20" y2="293.09" stroke="#000" stroke-width="1.0"/>
<text x="569.00" y="297.54" font-size="12.5" text-anchor="end">40</text>
<line x1="575.00" y1="253.30" x2="581.20" y2="253.30" stroke="#000" stroke-width="1.0"/>
<text x="569.00" y="257.75" font-size="12.5" text-anchor="end">60</text>
<line x1="575.00" y1="213.50" x2="581.20" y2="213.50" stroke="#000" stroke-width="1.0"/>
<text x="569.00" y="217.95" font-size="12.5" text-anchor="end">80</text>
<line x1="581.20" y1="408.50" x2="581.20" y2="412.80" stroke="#000" stroke-width="1.0"/>
<text x="581.20" y="429.1" font-size="12" text-anchor="middle">0</text>
<line x1="601.70" y1="408.50" x2="601.70" y2="412.80" stroke="#000" stroke-width="1.0"/>
<text x="601.70" y="429.1" font-size="12" text-anchor="middle">5</text>
<line x1="622.20" y1="408.50" x2="622.20" y2="412.80" stroke="#000" stroke-width="1.0"/>
<text x="622.20" y="429.1" font-size="12" text-anchor="middle">10</text>
<line x1="642.70" y1="408.50" x2="642.70" y2="412.80" stroke="#000" stroke-width="1.0"/>
<text x="642.70" y="429.1" font-size="12" text-anchor="middle">15</text>
<line x1="663.20" y1="408.50" x2="663.20" y2="412.80" stroke="#000" stroke-width="1.0"/>
<text x="663.20" y="429.1" font-size="12" text-anchor="middle">20</text>
<line x1="683.70" y1="408.50" x2="683.70" y2="412.80" stroke="#000" stroke-width="1.0"/>
<text x="683.70" y="429.1" font-size="12" text-anchor="middle">25</text>
<line x1="704.20" y1="408.50" x2="704.20" y2="412.80" stroke="#000" stroke-width="1.0"/>
<text x="704.20" y="429.1" font-size="12" text-anchor="middle">30</text>
<line x1="724.70" y1="408.50" x2="724.70" y2="412.80" stroke="#000" stroke-width="1.0"/>
<text x="724.70" y="429.1" font-size="12" text-anchor="middle">35</text>
<line x1="745.20" y1="408.50" x2="745.20" y2="412.80" stroke="#000" stroke-width="1.0"/>
<text x="745.20" y="429.1" font-size="12" text-anchor="middle">40</text>
<line x1="765.70" y1="408.50" x2="765.70" y2="412.80" stroke="#000" stroke-width="1.0"/>
<text x="765.70" y="429.1" font-size="12" text-anchor="middle">45</text>
<text x="678.80" y="449.9" font-size="16.8" text-anchor="middle">Radius</text>
<text transform="translate(540.20,311.00) rotate(-90)" x="0" y="0" font-size="17.1" text-anchor="middle">Surface area (μm<tspan font-size="16.4" dy="-5.5" dx="0.6">2</tspan><tspan dy="5.5">)</tspan></text>
<rect x="185.5" y="8.5" width="59.40" height="90.30" fill="#fff" stroke="#000" stroke-width="1"/>
<line x1="192.1" y1="23.1" x2="220.1" y2="23.1" stroke="#000" stroke-width="1.1"/>
<circle cx="206.20" cy="23.10" r="4.0" fill="#000" stroke="#000" stroke-width="0.8"/>
<text x="226.3" y="27.60" font-size="12.6">I</text>
<line x1="192.1" y1="38.5" x2="220.1" y2="38.5" stroke="#000" stroke-width="1.1"/>
<circle cx="206.20" cy="38.50" r="3.6" fill="#fff" stroke="#000" stroke-width="1"/>
<text x="226.3" y="43.00" font-size="12.6">II</text>
<line x1="192.1" y1="53.9" x2="220.1" y2="53.9" stroke="#000" stroke-width="1.1"/>
<polygon points="201.50,51.30 210.90,51.30 206.20,59.10" fill="#000" stroke="#000" stroke-width="0.5" stroke-linejoin="miter"/>
<text x="226.3" y="58.40" font-size="12.6">III</text>
<line x1="192.1" y1="69.3" x2="220.1" y2="69.3" stroke="#000" stroke-width="1.1"/>
<polygon points="202.10,67.20 210.30,67.20 206.20,73.60" fill="#fff" stroke="#000" stroke-width="1"/>
<text x="226.3" y="73.80" font-size="12.6">V</text>
<line x1="192.1" y1="84.7" x2="220.1" y2="84.7" stroke="#000" stroke-width="1.1"/>
<rect x="202.40" y="80.90" width="7.6" height="7.6" fill="#000"/>
<text x="226.3" y="89.20" font-size="12.6">VI</text>
</svg></body></html>
